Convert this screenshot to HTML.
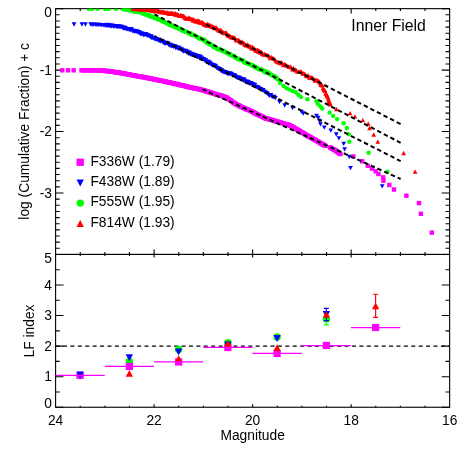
<!DOCTYPE html>
<html><head><meta charset="utf-8"><title>Inner Field</title>
<style>html,body{margin:0;padding:0;background:#fff}body{width:463px;height:463px;overflow:hidden}</style>
</head><body>
<svg width="463" height="463" viewBox="0 0 463 463" style="display:block;will-change:transform">
<rect width="463" height="463" fill="#fff"/>
<defs><clipPath id="c1"><rect x="55.6" y="8.65" width="394.04999999999995" height="245.79999999999998"/></clipPath></defs>
<g stroke="#000" stroke-width="1.1" fill="none" stroke-linecap="butt">
<rect x="55.6" y="8.65" width="394.04999999999995" height="245.79999999999998"/>
<rect x="55.6" y="254.45" width="394.04999999999995" height="152.8"/>
<path d="M80.23 8.65v2.45M80.23 254.45v-2.45M80.23 254.45v1.5M80.23 407.25v-1.5M104.86 8.65v2.45M104.86 254.45v-2.45M104.86 254.45v1.5M104.86 407.25v-1.5M129.48 8.65v2.45M129.48 254.45v-2.45M129.48 254.45v1.5M129.48 407.25v-1.5M154.11 8.65v4.9M154.11 254.45v-4.9M154.11 254.45v3.05M154.11 407.25v-3.05M178.74 8.65v2.45M178.74 254.45v-2.45M178.74 254.45v1.5M178.74 407.25v-1.5M203.37 8.65v2.45M203.37 254.45v-2.45M203.37 254.45v1.5M203.37 407.25v-1.5M228.00 8.65v2.45M228.00 254.45v-2.45M228.00 254.45v1.5M228.00 407.25v-1.5M252.62 8.65v4.9M252.62 254.45v-4.9M252.62 254.45v3.05M252.62 407.25v-3.05M277.25 8.65v2.45M277.25 254.45v-2.45M277.25 254.45v1.5M277.25 407.25v-1.5M301.88 8.65v2.45M301.88 254.45v-2.45M301.88 254.45v1.5M301.88 407.25v-1.5M326.51 8.65v2.45M326.51 254.45v-2.45M326.51 254.45v1.5M326.51 407.25v-1.5M351.14 8.65v4.9M351.14 254.45v-4.9M351.14 254.45v3.05M351.14 407.25v-3.05M375.77 8.65v2.45M375.77 254.45v-2.45M375.77 254.45v1.5M375.77 407.25v-1.5M400.39 8.65v2.45M400.39 254.45v-2.45M400.39 254.45v1.5M400.39 407.25v-1.5M425.02 8.65v2.45M425.02 254.45v-2.45M425.02 254.45v1.5M425.02 407.25v-1.5M55.6 8.65h7.9M449.65 8.65h-7.9M55.6 14.79h4.1M449.65 14.79h-4.1M55.6 20.94h4.1M449.65 20.94h-4.1M55.6 27.09h4.1M449.65 27.09h-4.1M55.6 33.23h4.1M449.65 33.23h-4.1M55.6 39.38h4.1M449.65 39.38h-4.1M55.6 45.52h4.1M449.65 45.52h-4.1M55.6 51.66h4.1M449.65 51.66h-4.1M55.6 57.81h4.1M449.65 57.81h-4.1M55.6 63.95h4.1M449.65 63.95h-4.1M55.6 70.10h7.9M449.65 70.10h-7.9M55.6 76.25h4.1M449.65 76.25h-4.1M55.6 82.39h4.1M449.65 82.39h-4.1M55.6 88.53h4.1M449.65 88.53h-4.1M55.6 94.68h4.1M449.65 94.68h-4.1M55.6 100.83h4.1M449.65 100.83h-4.1M55.6 106.97h4.1M449.65 106.97h-4.1M55.6 113.11h4.1M449.65 113.11h-4.1M55.6 119.26h4.1M449.65 119.26h-4.1M55.6 125.40h4.1M449.65 125.40h-4.1M55.6 131.55h7.9M449.65 131.55h-7.9M55.6 137.69h4.1M449.65 137.69h-4.1M55.6 143.84h4.1M449.65 143.84h-4.1M55.6 149.98h4.1M449.65 149.98h-4.1M55.6 156.13h4.1M449.65 156.13h-4.1M55.6 162.28h4.1M449.65 162.28h-4.1M55.6 168.42h4.1M449.65 168.42h-4.1M55.6 174.56h4.1M449.65 174.56h-4.1M55.6 180.71h4.1M449.65 180.71h-4.1M55.6 186.85h4.1M449.65 186.85h-4.1M55.6 193.00h7.9M449.65 193.00h-7.9M55.6 199.15h4.1M449.65 199.15h-4.1M55.6 205.29h4.1M449.65 205.29h-4.1M55.6 211.43h4.1M449.65 211.43h-4.1M55.6 217.58h4.1M449.65 217.58h-4.1M55.6 223.72h4.1M449.65 223.72h-4.1M55.6 229.87h4.1M449.65 229.87h-4.1M55.6 236.02h4.1M449.65 236.02h-4.1M55.6 242.16h4.1M449.65 242.16h-4.1M55.6 248.30h4.1M449.65 248.30h-4.1M55.6 254.45h7.9M449.65 254.45h-7.9M55.6 407.25h7.9M449.65 407.25h-7.9M55.6 391.97h4.1M449.65 391.97h-4.1M55.6 376.69h7.9M449.65 376.69h-7.9M55.6 361.41h4.1M449.65 361.41h-4.1M55.6 346.13h7.9M449.65 346.13h-7.9M55.6 330.85h4.1M449.65 330.85h-4.1M55.6 315.57h7.9M449.65 315.57h-7.9M55.6 300.29h4.1M449.65 300.29h-4.1M55.6 285.01h7.9M449.65 285.01h-7.9M55.6 269.73h4.1M449.65 269.73h-4.1M55.6 254.45h7.9M449.65 254.45h-7.9"/>
</g>
<g clip-path="url(#c1)">
<rect x="79.30" y="68.08" width="4.4" height="4.4" fill="#ff00ff"/>
<rect x="80.90" y="68.12" width="4.4" height="4.4" fill="#ff00ff"/>
<rect x="82.50" y="68.12" width="4.4" height="4.4" fill="#ff00ff"/>
<rect x="84.10" y="68.15" width="4.4" height="4.4" fill="#ff00ff"/>
<rect x="85.70" y="68.17" width="4.4" height="4.4" fill="#ff00ff"/>
<rect x="87.30" y="68.15" width="4.4" height="4.4" fill="#ff00ff"/>
<rect x="88.90" y="68.17" width="4.4" height="4.4" fill="#ff00ff"/>
<rect x="90.50" y="68.23" width="4.4" height="4.4" fill="#ff00ff"/>
<rect x="92.10" y="68.21" width="4.4" height="4.4" fill="#ff00ff"/>
<rect x="93.70" y="68.23" width="4.4" height="4.4" fill="#ff00ff"/>
<rect x="95.30" y="68.29" width="4.4" height="4.4" fill="#ff00ff"/>
<rect x="96.90" y="68.27" width="4.4" height="4.4" fill="#ff00ff"/>
<rect x="98.50" y="68.31" width="4.4" height="4.4" fill="#ff00ff"/>
<rect x="100.10" y="68.36" width="4.4" height="4.4" fill="#ff00ff"/>
<rect x="100.90" y="68.47" width="4.4" height="4.4" fill="#ff00ff"/>
<rect x="101.70" y="68.46" width="4.4" height="4.4" fill="#ff00ff"/>
<rect x="102.50" y="68.62" width="4.4" height="4.4" fill="#ff00ff"/>
<rect x="103.30" y="68.75" width="4.4" height="4.4" fill="#ff00ff"/>
<rect x="104.10" y="68.76" width="4.4" height="4.4" fill="#ff00ff"/>
<rect x="104.90" y="68.88" width="4.4" height="4.4" fill="#ff00ff"/>
<rect x="105.70" y="68.95" width="4.4" height="4.4" fill="#ff00ff"/>
<rect x="106.50" y="68.92" width="4.4" height="4.4" fill="#ff00ff"/>
<rect x="107.30" y="69.13" width="4.4" height="4.4" fill="#ff00ff"/>
<rect x="108.10" y="69.18" width="4.4" height="4.4" fill="#ff00ff"/>
<rect x="108.90" y="69.21" width="4.4" height="4.4" fill="#ff00ff"/>
<rect x="109.70" y="69.27" width="4.4" height="4.4" fill="#ff00ff"/>
<rect x="110.50" y="69.60" width="4.4" height="4.4" fill="#ff00ff"/>
<rect x="111.30" y="69.62" width="4.4" height="4.4" fill="#ff00ff"/>
<rect x="112.10" y="69.81" width="4.4" height="4.4" fill="#ff00ff"/>
<rect x="112.90" y="69.97" width="4.4" height="4.4" fill="#ff00ff"/>
<rect x="113.70" y="70.05" width="4.4" height="4.4" fill="#ff00ff"/>
<rect x="114.50" y="70.23" width="4.4" height="4.4" fill="#ff00ff"/>
<rect x="115.30" y="70.22" width="4.4" height="4.4" fill="#ff00ff"/>
<rect x="116.10" y="70.45" width="4.4" height="4.4" fill="#ff00ff"/>
<rect x="116.90" y="70.48" width="4.4" height="4.4" fill="#ff00ff"/>
<rect x="117.70" y="70.75" width="4.4" height="4.4" fill="#ff00ff"/>
<rect x="118.50" y="70.88" width="4.4" height="4.4" fill="#ff00ff"/>
<rect x="119.30" y="70.80" width="4.4" height="4.4" fill="#ff00ff"/>
<rect x="120.10" y="70.95" width="4.4" height="4.4" fill="#ff00ff"/>
<rect x="120.90" y="71.13" width="4.4" height="4.4" fill="#ff00ff"/>
<rect x="121.70" y="71.49" width="4.4" height="4.4" fill="#ff00ff"/>
<rect x="122.50" y="71.49" width="4.4" height="4.4" fill="#ff00ff"/>
<rect x="123.30" y="71.69" width="4.4" height="4.4" fill="#ff00ff"/>
<rect x="124.10" y="71.74" width="4.4" height="4.4" fill="#ff00ff"/>
<rect x="124.90" y="71.95" width="4.4" height="4.4" fill="#ff00ff"/>
<rect x="125.70" y="72.06" width="4.4" height="4.4" fill="#ff00ff"/>
<rect x="126.50" y="72.20" width="4.4" height="4.4" fill="#ff00ff"/>
<rect x="127.30" y="72.42" width="4.4" height="4.4" fill="#ff00ff"/>
<rect x="128.10" y="72.56" width="4.4" height="4.4" fill="#ff00ff"/>
<rect x="128.90" y="72.81" width="4.4" height="4.4" fill="#ff00ff"/>
<rect x="129.70" y="72.89" width="4.4" height="4.4" fill="#ff00ff"/>
<rect x="130.50" y="73.11" width="4.4" height="4.4" fill="#ff00ff"/>
<rect x="131.30" y="73.24" width="4.4" height="4.4" fill="#ff00ff"/>
<rect x="132.10" y="73.42" width="4.4" height="4.4" fill="#ff00ff"/>
<rect x="132.90" y="73.48" width="4.4" height="4.4" fill="#ff00ff"/>
<rect x="133.70" y="73.48" width="4.4" height="4.4" fill="#ff00ff"/>
<rect x="134.50" y="73.83" width="4.4" height="4.4" fill="#ff00ff"/>
<rect x="135.30" y="74.01" width="4.4" height="4.4" fill="#ff00ff"/>
<rect x="136.10" y="74.14" width="4.4" height="4.4" fill="#ff00ff"/>
<rect x="136.90" y="74.19" width="4.4" height="4.4" fill="#ff00ff"/>
<rect x="137.70" y="74.38" width="4.4" height="4.4" fill="#ff00ff"/>
<rect x="138.50" y="74.38" width="4.4" height="4.4" fill="#ff00ff"/>
<rect x="139.30" y="74.72" width="4.4" height="4.4" fill="#ff00ff"/>
<rect x="140.10" y="74.79" width="4.4" height="4.4" fill="#ff00ff"/>
<rect x="140.90" y="74.85" width="4.4" height="4.4" fill="#ff00ff"/>
<rect x="141.70" y="74.94" width="4.4" height="4.4" fill="#ff00ff"/>
<rect x="142.50" y="75.32" width="4.4" height="4.4" fill="#ff00ff"/>
<rect x="143.30" y="75.51" width="4.4" height="4.4" fill="#ff00ff"/>
<rect x="144.10" y="75.39" width="4.4" height="4.4" fill="#ff00ff"/>
<rect x="144.90" y="75.77" width="4.4" height="4.4" fill="#ff00ff"/>
<rect x="145.70" y="75.81" width="4.4" height="4.4" fill="#ff00ff"/>
<rect x="146.50" y="75.89" width="4.4" height="4.4" fill="#ff00ff"/>
<rect x="147.30" y="76.10" width="4.4" height="4.4" fill="#ff00ff"/>
<rect x="148.10" y="76.40" width="4.4" height="4.4" fill="#ff00ff"/>
<rect x="148.90" y="76.60" width="4.4" height="4.4" fill="#ff00ff"/>
<rect x="149.70" y="76.50" width="4.4" height="4.4" fill="#ff00ff"/>
<rect x="150.50" y="76.84" width="4.4" height="4.4" fill="#ff00ff"/>
<rect x="151.30" y="76.82" width="4.4" height="4.4" fill="#ff00ff"/>
<rect x="152.10" y="77.19" width="4.4" height="4.4" fill="#ff00ff"/>
<rect x="152.90" y="77.23" width="4.4" height="4.4" fill="#ff00ff"/>
<rect x="153.70" y="77.56" width="4.4" height="4.4" fill="#ff00ff"/>
<rect x="154.50" y="77.75" width="4.4" height="4.4" fill="#ff00ff"/>
<rect x="155.30" y="77.76" width="4.4" height="4.4" fill="#ff00ff"/>
<rect x="156.10" y="78.08" width="4.4" height="4.4" fill="#ff00ff"/>
<rect x="156.90" y="78.02" width="4.4" height="4.4" fill="#ff00ff"/>
<rect x="157.70" y="78.12" width="4.4" height="4.4" fill="#ff00ff"/>
<rect x="158.50" y="78.46" width="4.4" height="4.4" fill="#ff00ff"/>
<rect x="159.30" y="78.44" width="4.4" height="4.4" fill="#ff00ff"/>
<rect x="160.10" y="78.67" width="4.4" height="4.4" fill="#ff00ff"/>
<rect x="160.90" y="78.91" width="4.4" height="4.4" fill="#ff00ff"/>
<rect x="161.70" y="79.15" width="4.4" height="4.4" fill="#ff00ff"/>
<rect x="162.50" y="79.17" width="4.4" height="4.4" fill="#ff00ff"/>
<rect x="163.30" y="79.31" width="4.4" height="4.4" fill="#ff00ff"/>
<rect x="164.10" y="79.75" width="4.4" height="4.4" fill="#ff00ff"/>
<rect x="164.90" y="79.74" width="4.4" height="4.4" fill="#ff00ff"/>
<rect x="165.70" y="80.13" width="4.4" height="4.4" fill="#ff00ff"/>
<rect x="166.50" y="80.28" width="4.4" height="4.4" fill="#ff00ff"/>
<rect x="167.30" y="80.28" width="4.4" height="4.4" fill="#ff00ff"/>
<rect x="168.10" y="80.48" width="4.4" height="4.4" fill="#ff00ff"/>
<rect x="168.90" y="80.67" width="4.4" height="4.4" fill="#ff00ff"/>
<rect x="169.70" y="80.88" width="4.4" height="4.4" fill="#ff00ff"/>
<rect x="170.50" y="81.04" width="4.4" height="4.4" fill="#ff00ff"/>
<rect x="171.30" y="81.20" width="4.4" height="4.4" fill="#ff00ff"/>
<rect x="172.10" y="81.39" width="4.4" height="4.4" fill="#ff00ff"/>
<rect x="172.90" y="81.69" width="4.4" height="4.4" fill="#ff00ff"/>
<rect x="173.70" y="81.72" width="4.4" height="4.4" fill="#ff00ff"/>
<rect x="174.50" y="81.89" width="4.4" height="4.4" fill="#ff00ff"/>
<rect x="175.30" y="82.19" width="4.4" height="4.4" fill="#ff00ff"/>
<rect x="176.10" y="82.21" width="4.4" height="4.4" fill="#ff00ff"/>
<rect x="176.90" y="82.43" width="4.4" height="4.4" fill="#ff00ff"/>
<rect x="177.70" y="82.87" width="4.4" height="4.4" fill="#ff00ff"/>
<rect x="178.50" y="82.90" width="4.4" height="4.4" fill="#ff00ff"/>
<rect x="179.30" y="83.10" width="4.4" height="4.4" fill="#ff00ff"/>
<rect x="180.10" y="83.10" width="4.4" height="4.4" fill="#ff00ff"/>
<rect x="180.90" y="83.44" width="4.4" height="4.4" fill="#ff00ff"/>
<rect x="181.70" y="83.70" width="4.4" height="4.4" fill="#ff00ff"/>
<rect x="182.50" y="83.69" width="4.4" height="4.4" fill="#ff00ff"/>
<rect x="183.30" y="84.10" width="4.4" height="4.4" fill="#ff00ff"/>
<rect x="184.10" y="84.30" width="4.4" height="4.4" fill="#ff00ff"/>
<rect x="184.90" y="84.29" width="4.4" height="4.4" fill="#ff00ff"/>
<rect x="185.70" y="84.69" width="4.4" height="4.4" fill="#ff00ff"/>
<rect x="186.50" y="84.83" width="4.4" height="4.4" fill="#ff00ff"/>
<rect x="187.30" y="85.10" width="4.4" height="4.4" fill="#ff00ff"/>
<rect x="188.10" y="85.17" width="4.4" height="4.4" fill="#ff00ff"/>
<rect x="188.90" y="85.49" width="4.4" height="4.4" fill="#ff00ff"/>
<rect x="189.70" y="85.65" width="4.4" height="4.4" fill="#ff00ff"/>
<rect x="190.50" y="85.59" width="4.4" height="4.4" fill="#ff00ff"/>
<rect x="191.30" y="85.76" width="4.4" height="4.4" fill="#ff00ff"/>
<rect x="192.10" y="86.12" width="4.4" height="4.4" fill="#ff00ff"/>
<rect x="192.90" y="86.37" width="4.4" height="4.4" fill="#ff00ff"/>
<rect x="193.70" y="86.30" width="4.4" height="4.4" fill="#ff00ff"/>
<rect x="194.50" y="86.53" width="4.4" height="4.4" fill="#ff00ff"/>
<rect x="195.30" y="86.73" width="4.4" height="4.4" fill="#ff00ff"/>
<rect x="196.10" y="86.80" width="4.4" height="4.4" fill="#ff00ff"/>
<rect x="196.90" y="86.98" width="4.4" height="4.4" fill="#ff00ff"/>
<rect x="197.70" y="87.11" width="4.4" height="4.4" fill="#ff00ff"/>
<rect x="198.50" y="87.36" width="4.4" height="4.4" fill="#ff00ff"/>
<rect x="199.30" y="87.69" width="4.4" height="4.4" fill="#ff00ff"/>
<rect x="200.10" y="87.81" width="4.4" height="4.4" fill="#ff00ff"/>
<rect x="200.90" y="88.08" width="4.4" height="4.4" fill="#ff00ff"/>
<rect x="201.70" y="88.48" width="4.4" height="4.4" fill="#ff00ff"/>
<rect x="202.50" y="88.42" width="4.4" height="4.4" fill="#ff00ff"/>
<rect x="203.30" y="88.88" width="4.4" height="4.4" fill="#ff00ff"/>
<rect x="204.10" y="89.18" width="4.4" height="4.4" fill="#ff00ff"/>
<rect x="204.90" y="89.25" width="4.4" height="4.4" fill="#ff00ff"/>
<rect x="205.70" y="89.46" width="4.4" height="4.4" fill="#ff00ff"/>
<rect x="206.50" y="89.93" width="4.4" height="4.4" fill="#ff00ff"/>
<rect x="207.30" y="89.95" width="4.4" height="4.4" fill="#ff00ff"/>
<rect x="208.10" y="90.16" width="4.4" height="4.4" fill="#ff00ff"/>
<rect x="208.90" y="90.50" width="4.4" height="4.4" fill="#ff00ff"/>
<rect x="209.70" y="90.85" width="4.4" height="4.4" fill="#ff00ff"/>
<rect x="210.50" y="90.85" width="4.4" height="4.4" fill="#ff00ff"/>
<rect x="211.30" y="91.18" width="4.4" height="4.4" fill="#ff00ff"/>
<rect x="212.10" y="91.43" width="4.4" height="4.4" fill="#ff00ff"/>
<rect x="212.90" y="91.87" width="4.4" height="4.4" fill="#ff00ff"/>
<rect x="213.70" y="91.95" width="4.4" height="4.4" fill="#ff00ff"/>
<rect x="214.50" y="92.36" width="4.4" height="4.4" fill="#ff00ff"/>
<rect x="215.30" y="92.33" width="4.4" height="4.4" fill="#ff00ff"/>
<rect x="216.10" y="92.64" width="4.4" height="4.4" fill="#ff00ff"/>
<rect x="216.90" y="93.00" width="4.4" height="4.4" fill="#ff00ff"/>
<rect x="217.70" y="93.34" width="4.4" height="4.4" fill="#ff00ff"/>
<rect x="218.50" y="93.41" width="4.4" height="4.4" fill="#ff00ff"/>
<rect x="219.30" y="93.56" width="4.4" height="4.4" fill="#ff00ff"/>
<rect x="220.10" y="93.76" width="4.4" height="4.4" fill="#ff00ff"/>
<rect x="220.90" y="94.17" width="4.4" height="4.4" fill="#ff00ff"/>
<rect x="221.70" y="94.27" width="4.4" height="4.4" fill="#ff00ff"/>
<rect x="222.50" y="94.76" width="4.4" height="4.4" fill="#ff00ff"/>
<rect x="223.30" y="95.01" width="4.4" height="4.4" fill="#ff00ff"/>
<rect x="224.10" y="95.15" width="4.4" height="4.4" fill="#ff00ff"/>
<rect x="224.90" y="95.73" width="4.4" height="4.4" fill="#ff00ff"/>
<rect x="225.70" y="96.49" width="4.4" height="4.4" fill="#ff00ff"/>
<rect x="226.50" y="96.97" width="4.4" height="4.4" fill="#ff00ff"/>
<rect x="227.30" y="97.58" width="4.4" height="4.4" fill="#ff00ff"/>
<rect x="228.10" y="97.96" width="4.4" height="4.4" fill="#ff00ff"/>
<rect x="228.90" y="98.48" width="4.4" height="4.4" fill="#ff00ff"/>
<rect x="229.70" y="99.14" width="4.4" height="4.4" fill="#ff00ff"/>
<rect x="230.50" y="99.94" width="4.4" height="4.4" fill="#ff00ff"/>
<rect x="231.30" y="100.33" width="4.4" height="4.4" fill="#ff00ff"/>
<rect x="232.10" y="100.96" width="4.4" height="4.4" fill="#ff00ff"/>
<rect x="232.90" y="101.51" width="4.4" height="4.4" fill="#ff00ff"/>
<rect x="233.70" y="101.90" width="4.4" height="4.4" fill="#ff00ff"/>
<rect x="234.50" y="102.29" width="4.4" height="4.4" fill="#ff00ff"/>
<rect x="235.30" y="102.89" width="4.4" height="4.4" fill="#ff00ff"/>
<rect x="236.10" y="102.97" width="4.4" height="4.4" fill="#ff00ff"/>
<rect x="236.90" y="103.29" width="4.4" height="4.4" fill="#ff00ff"/>
<rect x="237.70" y="104.03" width="4.4" height="4.4" fill="#ff00ff"/>
<rect x="238.50" y="104.38" width="4.4" height="4.4" fill="#ff00ff"/>
<rect x="239.30" y="104.78" width="4.4" height="4.4" fill="#ff00ff"/>
<rect x="240.10" y="104.93" width="4.4" height="4.4" fill="#ff00ff"/>
<rect x="240.90" y="105.50" width="4.4" height="4.4" fill="#ff00ff"/>
<rect x="241.70" y="105.86" width="4.4" height="4.4" fill="#ff00ff"/>
<rect x="242.50" y="105.94" width="4.4" height="4.4" fill="#ff00ff"/>
<rect x="243.30" y="106.52" width="4.4" height="4.4" fill="#ff00ff"/>
<rect x="244.10" y="106.92" width="4.4" height="4.4" fill="#ff00ff"/>
<rect x="244.90" y="107.22" width="4.4" height="4.4" fill="#ff00ff"/>
<rect x="245.70" y="107.52" width="4.4" height="4.4" fill="#ff00ff"/>
<rect x="246.50" y="107.80" width="4.4" height="4.4" fill="#ff00ff"/>
<rect x="247.30" y="108.18" width="4.4" height="4.4" fill="#ff00ff"/>
<rect x="248.10" y="108.50" width="4.4" height="4.4" fill="#ff00ff"/>
<rect x="248.90" y="108.81" width="4.4" height="4.4" fill="#ff00ff"/>
<rect x="249.70" y="109.39" width="4.4" height="4.4" fill="#ff00ff"/>
<rect x="250.50" y="109.66" width="4.4" height="4.4" fill="#ff00ff"/>
<rect x="251.30" y="110.27" width="4.4" height="4.4" fill="#ff00ff"/>
<rect x="252.10" y="110.37" width="4.4" height="4.4" fill="#ff00ff"/>
<rect x="252.90" y="111.11" width="4.4" height="4.4" fill="#ff00ff"/>
<rect x="253.70" y="111.43" width="4.4" height="4.4" fill="#ff00ff"/>
<rect x="254.50" y="111.92" width="4.4" height="4.4" fill="#ff00ff"/>
<rect x="255.30" y="112.31" width="4.4" height="4.4" fill="#ff00ff"/>
<rect x="256.10" y="112.71" width="4.4" height="4.4" fill="#ff00ff"/>
<rect x="256.90" y="112.98" width="4.4" height="4.4" fill="#ff00ff"/>
<rect x="257.70" y="113.16" width="4.4" height="4.4" fill="#ff00ff"/>
<rect x="258.50" y="113.85" width="4.4" height="4.4" fill="#ff00ff"/>
<rect x="259.30" y="114.02" width="4.4" height="4.4" fill="#ff00ff"/>
<rect x="260.10" y="114.47" width="4.4" height="4.4" fill="#ff00ff"/>
<rect x="260.90" y="115.02" width="4.4" height="4.4" fill="#ff00ff"/>
<rect x="261.70" y="115.36" width="4.4" height="4.4" fill="#ff00ff"/>
<rect x="262.50" y="115.72" width="4.4" height="4.4" fill="#ff00ff"/>
<rect x="263.30" y="116.18" width="4.4" height="4.4" fill="#ff00ff"/>
<rect x="264.10" y="116.28" width="4.4" height="4.4" fill="#ff00ff"/>
<rect x="264.90" y="116.41" width="4.4" height="4.4" fill="#ff00ff"/>
<rect x="265.70" y="116.61" width="4.4" height="4.4" fill="#ff00ff"/>
<rect x="266.50" y="117.08" width="4.4" height="4.4" fill="#ff00ff"/>
<rect x="267.30" y="117.16" width="4.4" height="4.4" fill="#ff00ff"/>
<rect x="268.10" y="117.52" width="4.4" height="4.4" fill="#ff00ff"/>
<rect x="268.90" y="117.58" width="4.4" height="4.4" fill="#ff00ff"/>
<rect x="269.70" y="117.75" width="4.4" height="4.4" fill="#ff00ff"/>
<rect x="270.50" y="118.12" width="4.4" height="4.4" fill="#ff00ff"/>
<rect x="271.30" y="118.47" width="4.4" height="4.4" fill="#ff00ff"/>
<rect x="272.10" y="118.45" width="4.4" height="4.4" fill="#ff00ff"/>
<rect x="272.90" y="118.93" width="4.4" height="4.4" fill="#ff00ff"/>
<rect x="273.70" y="119.21" width="4.4" height="4.4" fill="#ff00ff"/>
<rect x="274.50" y="119.40" width="4.4" height="4.4" fill="#ff00ff"/>
<rect x="275.30" y="119.64" width="4.4" height="4.4" fill="#ff00ff"/>
<rect x="276.10" y="119.55" width="4.4" height="4.4" fill="#ff00ff"/>
<rect x="276.90" y="120.04" width="4.4" height="4.4" fill="#ff00ff"/>
<rect x="277.70" y="120.38" width="4.4" height="4.4" fill="#ff00ff"/>
<rect x="278.50" y="120.30" width="4.4" height="4.4" fill="#ff00ff"/>
<rect x="279.30" y="120.63" width="4.4" height="4.4" fill="#ff00ff"/>
<rect x="280.10" y="120.87" width="4.4" height="4.4" fill="#ff00ff"/>
<rect x="280.90" y="121.21" width="4.4" height="4.4" fill="#ff00ff"/>
<rect x="281.70" y="121.41" width="4.4" height="4.4" fill="#ff00ff"/>
<rect x="282.50" y="121.68" width="4.4" height="4.4" fill="#ff00ff"/>
<rect x="283.30" y="122.04" width="4.4" height="4.4" fill="#ff00ff"/>
<rect x="284.10" y="121.97" width="4.4" height="4.4" fill="#ff00ff"/>
<rect x="284.90" y="122.23" width="4.4" height="4.4" fill="#ff00ff"/>
<rect x="285.70" y="122.50" width="4.4" height="4.4" fill="#ff00ff"/>
<rect x="286.50" y="122.75" width="4.4" height="4.4" fill="#ff00ff"/>
<rect x="287.30" y="122.96" width="4.4" height="4.4" fill="#ff00ff"/>
<rect x="288.10" y="123.57" width="4.4" height="4.4" fill="#ff00ff"/>
<rect x="288.90" y="123.88" width="4.4" height="4.4" fill="#ff00ff"/>
<rect x="289.70" y="124.05" width="4.4" height="4.4" fill="#ff00ff"/>
<rect x="290.50" y="124.70" width="4.4" height="4.4" fill="#ff00ff"/>
<rect x="291.30" y="125.11" width="4.4" height="4.4" fill="#ff00ff"/>
<rect x="292.10" y="125.59" width="4.4" height="4.4" fill="#ff00ff"/>
<rect x="292.90" y="126.08" width="4.4" height="4.4" fill="#ff00ff"/>
<rect x="293.70" y="126.68" width="4.4" height="4.4" fill="#ff00ff"/>
<rect x="294.50" y="127.13" width="4.4" height="4.4" fill="#ff00ff"/>
<rect x="295.30" y="127.52" width="4.4" height="4.4" fill="#ff00ff"/>
<rect x="296.10" y="127.94" width="4.4" height="4.4" fill="#ff00ff"/>
<rect x="296.90" y="128.47" width="4.4" height="4.4" fill="#ff00ff"/>
<rect x="297.70" y="128.87" width="4.4" height="4.4" fill="#ff00ff"/>
<rect x="298.50" y="129.52" width="4.4" height="4.4" fill="#ff00ff"/>
<rect x="299.30" y="130.07" width="4.4" height="4.4" fill="#ff00ff"/>
<rect x="300.10" y="130.41" width="4.4" height="4.4" fill="#ff00ff"/>
<rect x="300.90" y="130.77" width="4.4" height="4.4" fill="#ff00ff"/>
<rect x="301.70" y="131.28" width="4.4" height="4.4" fill="#ff00ff"/>
<rect x="302.50" y="131.81" width="4.4" height="4.4" fill="#ff00ff"/>
<rect x="303.30" y="132.36" width="4.4" height="4.4" fill="#ff00ff"/>
<rect x="304.10" y="132.88" width="4.4" height="4.4" fill="#ff00ff"/>
<rect x="304.90" y="133.17" width="4.4" height="4.4" fill="#ff00ff"/>
<rect x="305.70" y="133.79" width="4.4" height="4.4" fill="#ff00ff"/>
<rect x="306.50" y="134.16" width="4.4" height="4.4" fill="#ff00ff"/>
<rect x="307.30" y="134.54" width="4.4" height="4.4" fill="#ff00ff"/>
<rect x="308.10" y="134.96" width="4.4" height="4.4" fill="#ff00ff"/>
<rect x="308.90" y="135.46" width="4.4" height="4.4" fill="#ff00ff"/>
<rect x="309.70" y="136.00" width="4.4" height="4.4" fill="#ff00ff"/>
<rect x="310.50" y="136.34" width="4.4" height="4.4" fill="#ff00ff"/>
<rect x="311.30" y="136.90" width="4.4" height="4.4" fill="#ff00ff"/>
<rect x="312.10" y="137.25" width="4.4" height="4.4" fill="#ff00ff"/>
<rect x="312.90" y="137.62" width="4.4" height="4.4" fill="#ff00ff"/>
<rect x="313.70" y="138.19" width="4.4" height="4.4" fill="#ff00ff"/>
<rect x="314.50" y="138.72" width="4.4" height="4.4" fill="#ff00ff"/>
<rect x="315.30" y="138.93" width="4.4" height="4.4" fill="#ff00ff"/>
<rect x="316.10" y="139.54" width="4.4" height="4.4" fill="#ff00ff"/>
<rect x="316.90" y="140.00" width="4.4" height="4.4" fill="#ff00ff"/>
<rect x="317.70" y="140.65" width="4.4" height="4.4" fill="#ff00ff"/>
<rect x="318.50" y="141.13" width="4.4" height="4.4" fill="#ff00ff"/>
<rect x="319.30" y="141.37" width="4.4" height="4.4" fill="#ff00ff"/>
<rect x="320.10" y="142.05" width="4.4" height="4.4" fill="#ff00ff"/>
<rect x="320.90" y="142.47" width="4.4" height="4.4" fill="#ff00ff"/>
<rect x="321.70" y="142.72" width="4.4" height="4.4" fill="#ff00ff"/>
<rect x="322.50" y="143.26" width="4.4" height="4.4" fill="#ff00ff"/>
<rect x="323.30" y="143.67" width="4.4" height="4.4" fill="#ff00ff"/>
<rect x="327.80" y="145.23" width="4.4" height="4.4" fill="#ff00ff"/>
<rect x="328.60" y="145.63" width="4.4" height="4.4" fill="#ff00ff"/>
<rect x="329.40" y="146.18" width="4.4" height="4.4" fill="#ff00ff"/>
<rect x="330.20" y="146.61" width="4.4" height="4.4" fill="#ff00ff"/>
<rect x="331.00" y="147.02" width="4.4" height="4.4" fill="#ff00ff"/>
<rect x="331.80" y="147.51" width="4.4" height="4.4" fill="#ff00ff"/>
<rect x="332.60" y="147.91" width="4.4" height="4.4" fill="#ff00ff"/>
<rect x="333.40" y="148.28" width="4.4" height="4.4" fill="#ff00ff"/>
<rect x="334.20" y="149.05" width="4.4" height="4.4" fill="#ff00ff"/>
<rect x="335.00" y="149.40" width="4.4" height="4.4" fill="#ff00ff"/>
<rect x="335.80" y="150.04" width="4.4" height="4.4" fill="#ff00ff"/>
<rect x="336.60" y="150.87" width="4.4" height="4.4" fill="#ff00ff"/>
<rect x="337.40" y="151.16" width="4.4" height="4.4" fill="#ff00ff"/>
<rect x="338.20" y="151.83" width="4.4" height="4.4" fill="#ff00ff"/>
<rect x="60.10" y="68.10" width="4.4" height="4.4" fill="#ff00ff"/>
<rect x="65.80" y="68.10" width="4.4" height="4.4" fill="#ff00ff"/>
<rect x="71.50" y="68.10" width="4.4" height="4.4" fill="#ff00ff"/>
<rect x="351.20" y="154.30" width="4.4" height="4.4" fill="#ff00ff"/>
<rect x="359.90" y="159.10" width="4.4" height="4.4" fill="#ff00ff"/>
<rect x="365.60" y="163.60" width="4.4" height="4.4" fill="#ff00ff"/>
<rect x="369.70" y="166.40" width="4.4" height="4.4" fill="#ff00ff"/>
<rect x="373.50" y="169.10" width="4.4" height="4.4" fill="#ff00ff"/>
<rect x="376.20" y="171.80" width="4.4" height="4.4" fill="#ff00ff"/>
<rect x="381.00" y="175.20" width="4.4" height="4.4" fill="#ff00ff"/>
<rect x="381.20" y="178.50" width="4.4" height="4.4" fill="#ff00ff"/>
<rect x="387.10" y="182.80" width="4.4" height="4.4" fill="#ff00ff"/>
<rect x="391.80" y="187.30" width="4.4" height="4.4" fill="#ff00ff"/>
<rect x="404.20" y="193.50" width="4.4" height="4.4" fill="#ff00ff"/>
<rect x="416.80" y="200.90" width="4.4" height="4.4" fill="#ff00ff"/>
<rect x="418.70" y="211.60" width="4.4" height="4.4" fill="#ff00ff"/>
<rect x="429.60" y="230.40" width="4.4" height="4.4" fill="#ff00ff"/>
<path d="M88.25 22.26L92.95 22.26L90.60 26.56Z" fill="#0000ff"/>
<path d="M89.85 22.69L94.55 22.69L92.20 26.99Z" fill="#0000ff"/>
<path d="M91.45 22.43L96.15 22.43L93.80 26.73Z" fill="#0000ff"/>
<path d="M93.05 22.43L97.75 22.43L95.40 26.73Z" fill="#0000ff"/>
<path d="M94.65 22.88L99.35 22.88L97.00 27.18Z" fill="#0000ff"/>
<path d="M96.25 22.61L100.95 22.61L98.60 26.91Z" fill="#0000ff"/>
<path d="M97.85 23.01L102.55 23.01L100.20 27.31Z" fill="#0000ff"/>
<path d="M99.45 23.00L104.15 23.00L101.80 27.30Z" fill="#0000ff"/>
<path d="M101.05 23.14L105.75 23.14L103.40 27.44Z" fill="#0000ff"/>
<path d="M102.65 23.46L107.35 23.46L105.00 27.76Z" fill="#0000ff"/>
<path d="M103.35 23.20L108.05 23.20L105.70 27.50Z" fill="#0000ff"/>
<path d="M104.05 23.48L108.75 23.48L106.40 27.78Z" fill="#0000ff"/>
<path d="M104.75 22.87L109.45 22.87L107.10 27.17Z" fill="#0000ff"/>
<path d="M105.45 23.61L110.15 23.61L107.80 27.91Z" fill="#0000ff"/>
<path d="M106.15 23.46L110.85 23.46L108.50 27.76Z" fill="#0000ff"/>
<path d="M106.85 23.72L111.55 23.72L109.20 28.02Z" fill="#0000ff"/>
<path d="M107.55 23.26L112.25 23.26L109.90 27.56Z" fill="#0000ff"/>
<path d="M108.25 23.91L112.95 23.91L110.60 28.21Z" fill="#0000ff"/>
<path d="M108.95 24.16L113.65 24.16L111.30 28.46Z" fill="#0000ff"/>
<path d="M109.65 23.42L114.35 23.42L112.00 27.72Z" fill="#0000ff"/>
<path d="M110.35 23.77L115.05 23.77L112.70 28.07Z" fill="#0000ff"/>
<path d="M111.05 24.09L115.75 24.09L113.40 28.39Z" fill="#0000ff"/>
<path d="M111.75 24.44L116.45 24.44L114.10 28.74Z" fill="#0000ff"/>
<path d="M112.45 23.95L117.15 23.95L114.80 28.25Z" fill="#0000ff"/>
<path d="M113.15 23.98L117.85 23.98L115.50 28.28Z" fill="#0000ff"/>
<path d="M113.85 24.14L118.55 24.14L116.20 28.44Z" fill="#0000ff"/>
<path d="M114.55 24.59L119.25 24.59L116.90 28.89Z" fill="#0000ff"/>
<path d="M115.25 24.82L119.95 24.82L117.60 29.12Z" fill="#0000ff"/>
<path d="M115.95 24.55L120.65 24.55L118.30 28.85Z" fill="#0000ff"/>
<path d="M116.65 24.62L121.35 24.62L119.00 28.92Z" fill="#0000ff"/>
<path d="M117.35 24.67L122.05 24.67L119.70 28.97Z" fill="#0000ff"/>
<path d="M118.05 24.74L122.75 24.74L120.40 29.04Z" fill="#0000ff"/>
<path d="M118.75 25.04L123.45 25.04L121.10 29.34Z" fill="#0000ff"/>
<path d="M119.45 24.63L124.15 24.63L121.80 28.93Z" fill="#0000ff"/>
<path d="M120.15 25.54L124.85 25.54L122.50 29.84Z" fill="#0000ff"/>
<path d="M120.85 26.54L125.55 26.54L123.20 30.84Z" fill="#0000ff"/>
<path d="M121.55 25.74L126.25 25.74L123.90 30.04Z" fill="#0000ff"/>
<path d="M122.25 26.51L126.95 26.51L124.60 30.81Z" fill="#0000ff"/>
<path d="M122.95 25.66L127.65 25.66L125.30 29.96Z" fill="#0000ff"/>
<path d="M123.65 26.76L128.35 26.76L126.00 31.06Z" fill="#0000ff"/>
<path d="M124.35 27.06L129.05 27.06L126.70 31.36Z" fill="#0000ff"/>
<path d="M125.05 27.09L129.75 27.09L127.40 31.39Z" fill="#0000ff"/>
<path d="M125.75 27.00L130.45 27.00L128.10 31.30Z" fill="#0000ff"/>
<path d="M126.45 27.12L131.15 27.12L128.80 31.42Z" fill="#0000ff"/>
<path d="M127.15 27.57L131.85 27.57L129.50 31.87Z" fill="#0000ff"/>
<path d="M127.85 28.24L132.55 28.24L130.20 32.54Z" fill="#0000ff"/>
<path d="M128.55 27.14L133.25 27.14L130.90 31.44Z" fill="#0000ff"/>
<path d="M129.25 27.30L133.95 27.30L131.60 31.60Z" fill="#0000ff"/>
<path d="M129.95 28.73L134.65 28.73L132.30 33.03Z" fill="#0000ff"/>
<path d="M130.65 29.29L135.35 29.29L133.00 33.59Z" fill="#0000ff"/>
<path d="M131.35 28.82L136.05 28.82L133.70 33.12Z" fill="#0000ff"/>
<path d="M132.05 28.94L136.75 28.94L134.40 33.24Z" fill="#0000ff"/>
<path d="M132.75 29.69L137.45 29.69L135.10 33.99Z" fill="#0000ff"/>
<path d="M133.45 28.98L138.15 28.98L135.80 33.28Z" fill="#0000ff"/>
<path d="M134.15 29.38L138.85 29.38L136.50 33.68Z" fill="#0000ff"/>
<path d="M134.85 29.51L139.55 29.51L137.20 33.81Z" fill="#0000ff"/>
<path d="M135.55 30.46L140.25 30.46L137.90 34.76Z" fill="#0000ff"/>
<path d="M136.25 30.23L140.95 30.23L138.60 34.53Z" fill="#0000ff"/>
<path d="M136.95 30.33L141.65 30.33L139.30 34.63Z" fill="#0000ff"/>
<path d="M137.65 31.41L142.35 31.41L140.00 35.71Z" fill="#0000ff"/>
<path d="M138.35 32.13L143.05 32.13L140.70 36.43Z" fill="#0000ff"/>
<path d="M139.05 31.19L143.75 31.19L141.40 35.49Z" fill="#0000ff"/>
<path d="M139.75 32.16L144.45 32.16L142.10 36.46Z" fill="#0000ff"/>
<path d="M140.45 31.87L145.15 31.87L142.80 36.17Z" fill="#0000ff"/>
<path d="M141.15 32.90L145.85 32.90L143.50 37.20Z" fill="#0000ff"/>
<path d="M141.85 32.65L146.55 32.65L144.20 36.95Z" fill="#0000ff"/>
<path d="M142.55 32.31L147.25 32.31L144.90 36.61Z" fill="#0000ff"/>
<path d="M143.25 32.46L147.95 32.46L145.60 36.76Z" fill="#0000ff"/>
<path d="M143.95 32.35L148.65 32.35L146.30 36.65Z" fill="#0000ff"/>
<path d="M144.65 33.40L149.35 33.40L147.00 37.70Z" fill="#0000ff"/>
<path d="M145.35 33.46L150.05 33.46L147.70 37.76Z" fill="#0000ff"/>
<path d="M146.05 33.32L150.75 33.32L148.40 37.62Z" fill="#0000ff"/>
<path d="M146.75 33.90L151.45 33.90L149.10 38.20Z" fill="#0000ff"/>
<path d="M147.45 34.06L152.15 34.06L149.80 38.36Z" fill="#0000ff"/>
<path d="M148.15 35.14L152.85 35.14L150.50 39.44Z" fill="#0000ff"/>
<path d="M148.85 34.28L153.55 34.28L151.20 38.58Z" fill="#0000ff"/>
<path d="M149.55 36.08L154.25 36.08L151.90 40.38Z" fill="#0000ff"/>
<path d="M150.25 35.43L154.95 35.43L152.60 39.73Z" fill="#0000ff"/>
<path d="M150.95 35.92L155.65 35.92L153.30 40.22Z" fill="#0000ff"/>
<path d="M151.65 35.96L156.35 35.96L154.00 40.26Z" fill="#0000ff"/>
<path d="M152.35 36.89L157.05 36.89L154.70 41.19Z" fill="#0000ff"/>
<path d="M153.05 37.14L157.75 37.14L155.40 41.44Z" fill="#0000ff"/>
<path d="M153.75 36.94L158.45 36.94L156.10 41.24Z" fill="#0000ff"/>
<path d="M154.45 37.07L159.15 37.07L156.80 41.37Z" fill="#0000ff"/>
<path d="M155.15 37.78L159.85 37.78L157.50 42.08Z" fill="#0000ff"/>
<path d="M155.85 38.30L160.55 38.30L158.20 42.60Z" fill="#0000ff"/>
<path d="M156.55 37.77L161.25 37.77L158.90 42.07Z" fill="#0000ff"/>
<path d="M157.25 38.70L161.95 38.70L159.60 43.00Z" fill="#0000ff"/>
<path d="M157.95 39.44L162.65 39.44L160.30 43.74Z" fill="#0000ff"/>
<path d="M158.65 38.89L163.35 38.89L161.00 43.19Z" fill="#0000ff"/>
<path d="M159.35 38.79L164.05 38.79L161.70 43.09Z" fill="#0000ff"/>
<path d="M160.05 39.13L164.75 39.13L162.40 43.43Z" fill="#0000ff"/>
<path d="M160.75 40.34L165.45 40.34L163.10 44.64Z" fill="#0000ff"/>
<path d="M161.45 40.59L166.15 40.59L163.80 44.89Z" fill="#0000ff"/>
<path d="M162.15 41.44L166.85 41.44L164.50 45.74Z" fill="#0000ff"/>
<path d="M162.85 41.57L167.55 41.57L165.20 45.87Z" fill="#0000ff"/>
<path d="M163.55 40.75L168.25 40.75L165.90 45.05Z" fill="#0000ff"/>
<path d="M164.25 40.95L168.95 40.95L166.60 45.25Z" fill="#0000ff"/>
<path d="M164.95 41.36L169.65 41.36L167.30 45.66Z" fill="#0000ff"/>
<path d="M165.65 41.52L170.35 41.52L168.00 45.82Z" fill="#0000ff"/>
<path d="M166.35 42.74L171.05 42.74L168.70 47.04Z" fill="#0000ff"/>
<path d="M167.05 43.30L171.75 43.30L169.40 47.60Z" fill="#0000ff"/>
<path d="M167.75 43.66L172.45 43.66L170.10 47.96Z" fill="#0000ff"/>
<path d="M168.45 42.79L173.15 42.79L170.80 47.09Z" fill="#0000ff"/>
<path d="M169.15 44.17L173.85 44.17L171.50 48.47Z" fill="#0000ff"/>
<path d="M169.85 43.47L174.55 43.47L172.20 47.77Z" fill="#0000ff"/>
<path d="M170.55 43.95L175.25 43.95L172.90 48.25Z" fill="#0000ff"/>
<path d="M171.25 44.79L175.95 44.79L173.60 49.09Z" fill="#0000ff"/>
<path d="M171.95 43.92L176.65 43.92L174.30 48.22Z" fill="#0000ff"/>
<path d="M172.65 44.22L177.35 44.22L175.00 48.52Z" fill="#0000ff"/>
<path d="M173.35 45.85L178.05 45.85L175.70 50.15Z" fill="#0000ff"/>
<path d="M174.05 45.18L178.75 45.18L176.40 49.48Z" fill="#0000ff"/>
<path d="M174.75 45.60L179.45 45.60L177.10 49.90Z" fill="#0000ff"/>
<path d="M175.45 46.30L180.15 46.30L177.80 50.60Z" fill="#0000ff"/>
<path d="M176.15 46.78L180.85 46.78L178.50 51.08Z" fill="#0000ff"/>
<path d="M176.85 45.87L181.55 45.87L179.20 50.17Z" fill="#0000ff"/>
<path d="M177.55 46.77L182.25 46.77L179.90 51.07Z" fill="#0000ff"/>
<path d="M178.25 47.25L182.95 47.25L180.60 51.55Z" fill="#0000ff"/>
<path d="M178.95 47.64L183.65 47.64L181.30 51.94Z" fill="#0000ff"/>
<path d="M179.65 47.45L184.35 47.45L182.00 51.75Z" fill="#0000ff"/>
<path d="M180.35 48.42L185.05 48.42L182.70 52.72Z" fill="#0000ff"/>
<path d="M181.05 49.39L185.75 49.39L183.40 53.69Z" fill="#0000ff"/>
<path d="M181.75 48.68L186.45 48.68L184.10 52.98Z" fill="#0000ff"/>
<path d="M182.45 49.26L187.15 49.26L184.80 53.56Z" fill="#0000ff"/>
<path d="M183.15 48.79L187.85 48.79L185.50 53.09Z" fill="#0000ff"/>
<path d="M183.85 49.37L188.55 49.37L186.20 53.67Z" fill="#0000ff"/>
<path d="M184.55 50.38L189.25 50.38L186.90 54.68Z" fill="#0000ff"/>
<path d="M185.25 49.69L189.95 49.69L187.60 53.99Z" fill="#0000ff"/>
<path d="M185.95 51.38L190.65 51.38L188.30 55.68Z" fill="#0000ff"/>
<path d="M186.65 51.72L191.35 51.72L189.00 56.02Z" fill="#0000ff"/>
<path d="M187.35 50.56L192.05 50.56L189.70 54.86Z" fill="#0000ff"/>
<path d="M188.05 52.39L192.75 52.39L190.40 56.69Z" fill="#0000ff"/>
<path d="M188.75 51.66L193.45 51.66L191.10 55.96Z" fill="#0000ff"/>
<path d="M189.45 52.65L194.15 52.65L191.80 56.95Z" fill="#0000ff"/>
<path d="M190.15 52.89L194.85 52.89L192.50 57.19Z" fill="#0000ff"/>
<path d="M190.85 52.33L195.55 52.33L193.20 56.63Z" fill="#0000ff"/>
<path d="M191.55 53.28L196.25 53.28L193.90 57.58Z" fill="#0000ff"/>
<path d="M192.25 53.51L196.95 53.51L194.60 57.81Z" fill="#0000ff"/>
<path d="M192.95 54.05L197.65 54.05L195.30 58.35Z" fill="#0000ff"/>
<path d="M193.65 53.34L198.35 53.34L196.00 57.64Z" fill="#0000ff"/>
<path d="M194.35 54.49L199.05 54.49L196.70 58.79Z" fill="#0000ff"/>
<path d="M195.05 55.11L199.75 55.11L197.40 59.41Z" fill="#0000ff"/>
<path d="M195.75 54.82L200.45 54.82L198.10 59.12Z" fill="#0000ff"/>
<path d="M196.45 54.80L201.15 54.80L198.80 59.10Z" fill="#0000ff"/>
<path d="M197.15 54.27L201.85 54.27L199.50 58.57Z" fill="#0000ff"/>
<path d="M197.85 55.18L202.55 55.18L200.20 59.48Z" fill="#0000ff"/>
<path d="M198.55 55.15L203.25 55.15L200.90 59.45Z" fill="#0000ff"/>
<path d="M199.25 56.29L203.95 56.29L201.60 60.59Z" fill="#0000ff"/>
<path d="M199.95 56.75L204.65 56.75L202.30 61.05Z" fill="#0000ff"/>
<path d="M200.65 57.07L205.35 57.07L203.00 61.37Z" fill="#0000ff"/>
<path d="M201.35 56.90L206.05 56.90L203.70 61.20Z" fill="#0000ff"/>
<path d="M202.05 58.26L206.75 58.26L204.40 62.56Z" fill="#0000ff"/>
<path d="M202.75 58.74L207.45 58.74L205.10 63.04Z" fill="#0000ff"/>
<path d="M203.45 58.35L208.15 58.35L205.80 62.65Z" fill="#0000ff"/>
<path d="M204.15 60.04L208.85 60.04L206.50 64.34Z" fill="#0000ff"/>
<path d="M204.85 60.03L209.55 60.03L207.20 64.33Z" fill="#0000ff"/>
<path d="M205.55 59.49L210.25 59.49L207.90 63.79Z" fill="#0000ff"/>
<path d="M206.25 61.36L210.95 61.36L208.60 65.66Z" fill="#0000ff"/>
<path d="M206.95 60.36L211.65 60.36L209.30 64.66Z" fill="#0000ff"/>
<path d="M207.65 61.11L212.35 61.11L210.00 65.41Z" fill="#0000ff"/>
<path d="M208.35 62.23L213.05 62.23L210.70 66.53Z" fill="#0000ff"/>
<path d="M209.05 62.42L213.75 62.42L211.40 66.72Z" fill="#0000ff"/>
<path d="M209.75 62.76L214.45 62.76L212.10 67.06Z" fill="#0000ff"/>
<path d="M210.45 63.34L215.15 63.34L212.80 67.64Z" fill="#0000ff"/>
<path d="M211.15 63.42L215.85 63.42L213.50 67.72Z" fill="#0000ff"/>
<path d="M211.85 63.57L216.55 63.57L214.20 67.87Z" fill="#0000ff"/>
<path d="M212.55 63.74L217.25 63.74L214.90 68.04Z" fill="#0000ff"/>
<path d="M213.25 63.96L217.95 63.96L215.60 68.26Z" fill="#0000ff"/>
<path d="M213.95 65.54L218.65 65.54L216.30 69.84Z" fill="#0000ff"/>
<path d="M214.65 66.05L219.35 66.05L217.00 70.35Z" fill="#0000ff"/>
<path d="M215.35 66.17L220.05 66.17L217.70 70.47Z" fill="#0000ff"/>
<path d="M216.05 67.03L220.75 67.03L218.40 71.33Z" fill="#0000ff"/>
<path d="M216.75 66.85L221.45 66.85L219.10 71.15Z" fill="#0000ff"/>
<path d="M217.45 67.18L222.15 67.18L219.80 71.48Z" fill="#0000ff"/>
<path d="M218.15 67.86L222.85 67.86L220.50 72.16Z" fill="#0000ff"/>
<path d="M218.85 69.18L223.55 69.18L221.20 73.48Z" fill="#0000ff"/>
<path d="M219.55 68.13L224.25 68.13L221.90 72.43Z" fill="#0000ff"/>
<path d="M220.25 69.41L224.95 69.41L222.60 73.71Z" fill="#0000ff"/>
<path d="M220.95 69.39L225.65 69.39L223.30 73.69Z" fill="#0000ff"/>
<path d="M221.65 70.56L226.35 70.56L224.00 74.86Z" fill="#0000ff"/>
<path d="M222.35 70.05L227.05 70.05L224.70 74.35Z" fill="#0000ff"/>
<path d="M223.05 70.24L227.75 70.24L225.40 74.54Z" fill="#0000ff"/>
<path d="M223.75 70.60L228.45 70.60L226.10 74.90Z" fill="#0000ff"/>
<path d="M224.45 71.08L229.15 71.08L226.80 75.38Z" fill="#0000ff"/>
<path d="M225.15 71.72L229.85 71.72L227.50 76.02Z" fill="#0000ff"/>
<path d="M225.85 71.20L230.55 71.20L228.20 75.50Z" fill="#0000ff"/>
<path d="M226.55 72.32L231.25 72.32L228.90 76.62Z" fill="#0000ff"/>
<path d="M227.25 71.23L231.95 71.23L229.60 75.53Z" fill="#0000ff"/>
<path d="M227.95 71.75L232.65 71.75L230.30 76.05Z" fill="#0000ff"/>
<path d="M228.65 71.67L233.35 71.67L231.00 75.97Z" fill="#0000ff"/>
<path d="M229.35 71.92L234.05 71.92L231.70 76.22Z" fill="#0000ff"/>
<path d="M230.05 73.35L234.75 73.35L232.40 77.65Z" fill="#0000ff"/>
<path d="M230.75 73.51L235.45 73.51L233.10 77.81Z" fill="#0000ff"/>
<path d="M231.45 72.90L236.15 72.90L233.80 77.20Z" fill="#0000ff"/>
<path d="M232.15 73.28L236.85 73.28L234.50 77.58Z" fill="#0000ff"/>
<path d="M232.85 74.06L237.55 74.06L235.20 78.36Z" fill="#0000ff"/>
<path d="M233.55 75.01L238.25 75.01L235.90 79.31Z" fill="#0000ff"/>
<path d="M234.25 75.51L238.95 75.51L236.60 79.81Z" fill="#0000ff"/>
<path d="M234.95 75.76L239.65 75.76L237.30 80.06Z" fill="#0000ff"/>
<path d="M235.65 75.84L240.35 75.84L238.00 80.14Z" fill="#0000ff"/>
<path d="M236.35 75.41L241.05 75.41L238.70 79.71Z" fill="#0000ff"/>
<path d="M237.05 76.18L241.75 76.18L239.40 80.48Z" fill="#0000ff"/>
<path d="M237.75 76.11L242.45 76.11L240.10 80.41Z" fill="#0000ff"/>
<path d="M238.45 77.01L243.15 77.01L240.80 81.31Z" fill="#0000ff"/>
<path d="M239.15 77.38L243.85 77.38L241.50 81.68Z" fill="#0000ff"/>
<path d="M239.85 77.02L244.55 77.02L242.20 81.32Z" fill="#0000ff"/>
<path d="M240.55 77.41L245.25 77.41L242.90 81.71Z" fill="#0000ff"/>
<path d="M241.25 78.66L245.95 78.66L243.60 82.96Z" fill="#0000ff"/>
<path d="M241.95 77.61L246.65 77.61L244.30 81.91Z" fill="#0000ff"/>
<path d="M242.65 79.30L247.35 79.30L245.00 83.60Z" fill="#0000ff"/>
<path d="M243.35 79.75L248.05 79.75L245.70 84.05Z" fill="#0000ff"/>
<path d="M244.05 80.16L248.75 80.16L246.40 84.46Z" fill="#0000ff"/>
<path d="M244.75 79.44L249.45 79.44L247.10 83.74Z" fill="#0000ff"/>
<path d="M245.45 80.04L250.15 80.04L247.80 84.34Z" fill="#0000ff"/>
<path d="M246.15 80.39L250.85 80.39L248.50 84.69Z" fill="#0000ff"/>
<path d="M246.85 80.78L251.55 80.78L249.20 85.08Z" fill="#0000ff"/>
<path d="M247.55 81.70L252.25 81.70L249.90 86.00Z" fill="#0000ff"/>
<path d="M248.25 81.47L252.95 81.47L250.60 85.77Z" fill="#0000ff"/>
<path d="M248.95 81.08L253.65 81.08L251.30 85.38Z" fill="#0000ff"/>
<path d="M249.65 82.42L254.35 82.42L252.00 86.72Z" fill="#0000ff"/>
<path d="M250.35 82.19L255.05 82.19L252.70 86.49Z" fill="#0000ff"/>
<path d="M251.05 82.84L255.75 82.84L253.40 87.14Z" fill="#0000ff"/>
<path d="M251.75 83.51L256.45 83.51L254.10 87.81Z" fill="#0000ff"/>
<path d="M252.45 82.65L257.15 82.65L254.80 86.95Z" fill="#0000ff"/>
<path d="M253.15 84.47L257.85 84.47L255.50 88.77Z" fill="#0000ff"/>
<path d="M254.25 84.97L258.95 84.97L256.60 89.27Z" fill="#0000ff"/>
<path d="M255.35 85.36L260.05 85.36L257.70 89.66Z" fill="#0000ff"/>
<path d="M256.45 86.11L261.15 86.11L258.80 90.41Z" fill="#0000ff"/>
<path d="M257.55 86.69L262.25 86.69L259.90 90.99Z" fill="#0000ff"/>
<path d="M258.65 86.90L263.35 86.90L261.00 91.20Z" fill="#0000ff"/>
<path d="M259.75 88.20L264.45 88.20L262.10 92.50Z" fill="#0000ff"/>
<path d="M260.85 88.01L265.55 88.01L263.20 92.31Z" fill="#0000ff"/>
<path d="M261.95 89.53L266.65 89.53L264.30 93.83Z" fill="#0000ff"/>
<path d="M263.05 90.48L267.75 90.48L265.40 94.78Z" fill="#0000ff"/>
<path d="M264.16 90.79L268.86 90.79L266.51 95.09Z" fill="#0000ff"/>
<path d="M265.27 91.68L269.97 91.68L267.62 95.98Z" fill="#0000ff"/>
<path d="M266.38 93.07L271.08 93.07L268.73 97.37Z" fill="#0000ff"/>
<path d="M267.49 93.62L272.19 93.62L269.84 97.92Z" fill="#0000ff"/>
<path d="M268.60 92.94L273.30 92.94L270.95 97.24Z" fill="#0000ff"/>
<path d="M269.71 94.79L274.41 94.79L272.06 99.09Z" fill="#0000ff"/>
<path d="M270.82 95.17L275.52 95.17L273.17 99.47Z" fill="#0000ff"/>
<path d="M271.93 94.81L276.63 94.81L274.28 99.11Z" fill="#0000ff"/>
<path d="M273.04 96.04L277.74 96.04L275.39 100.34Z" fill="#0000ff"/>
<path d="M71.70 22.35L76.40 22.35L74.05 26.65Z" fill="#0000ff"/>
<path d="M79.60 22.35L84.30 22.35L81.95 26.65Z" fill="#0000ff"/>
<path d="M83.10 22.35L87.80 22.35L85.45 26.65Z" fill="#0000ff"/>
<path d="M277.15 100.05L281.85 100.05L279.50 104.35Z" fill="#0000ff"/>
<path d="M282.35 103.35L287.05 103.35L284.70 107.65Z" fill="#0000ff"/>
<path d="M290.15 105.85L294.85 105.85L292.50 110.15Z" fill="#0000ff"/>
<path d="M299.15 109.65L303.85 109.65L301.50 113.95Z" fill="#0000ff"/>
<path d="M300.95 111.35L305.65 111.35L303.30 115.65Z" fill="#0000ff"/>
<path d="M314.15 113.65L318.85 113.65L316.50 117.95Z" fill="#0000ff"/>
<path d="M315.85 115.65L320.55 115.65L318.20 119.95Z" fill="#0000ff"/>
<path d="M317.25 118.85L321.95 118.85L319.60 123.15Z" fill="#0000ff"/>
<path d="M318.15 122.15L322.85 122.15L320.50 126.45Z" fill="#0000ff"/>
<path d="M321.95 125.45L326.65 125.45L324.30 129.75Z" fill="#0000ff"/>
<path d="M328.45 128.55L333.15 128.55L330.80 132.85Z" fill="#0000ff"/>
<path d="M333.95 132.35L338.65 132.35L336.30 136.65Z" fill="#0000ff"/>
<path d="M336.55 136.25L341.25 136.25L338.90 140.55Z" fill="#0000ff"/>
<path d="M341.35 141.75L346.05 141.75L343.70 146.05Z" fill="#0000ff"/>
<path d="M342.25 147.25L346.95 147.25L344.60 151.55Z" fill="#0000ff"/>
<path d="M346.85 154.85L351.55 154.85L349.20 159.15Z" fill="#0000ff"/>
<path d="M348.15 166.05L352.85 166.05L350.50 170.35Z" fill="#0000ff"/>
<path d="M379.85 184.15L384.55 184.15L382.20 188.45Z" fill="#0000ff"/>
<circle cx="122.50" cy="8.87" r="2.2" fill="#00ff00"/>
<circle cx="123.30" cy="8.86" r="2.2" fill="#00ff00"/>
<circle cx="124.10" cy="9.16" r="2.2" fill="#00ff00"/>
<circle cx="124.90" cy="9.43" r="2.2" fill="#00ff00"/>
<circle cx="125.70" cy="9.20" r="2.2" fill="#00ff00"/>
<circle cx="126.50" cy="9.54" r="2.2" fill="#00ff00"/>
<circle cx="127.30" cy="9.66" r="2.2" fill="#00ff00"/>
<circle cx="128.10" cy="9.27" r="2.2" fill="#00ff00"/>
<circle cx="128.90" cy="10.17" r="2.2" fill="#00ff00"/>
<circle cx="129.70" cy="10.09" r="2.2" fill="#00ff00"/>
<circle cx="130.50" cy="10.59" r="2.2" fill="#00ff00"/>
<circle cx="131.30" cy="10.55" r="2.2" fill="#00ff00"/>
<circle cx="132.10" cy="10.75" r="2.2" fill="#00ff00"/>
<circle cx="132.90" cy="10.49" r="2.2" fill="#00ff00"/>
<circle cx="133.70" cy="11.26" r="2.2" fill="#00ff00"/>
<circle cx="134.50" cy="11.62" r="2.2" fill="#00ff00"/>
<circle cx="135.30" cy="11.75" r="2.2" fill="#00ff00"/>
<circle cx="136.10" cy="11.46" r="2.2" fill="#00ff00"/>
<circle cx="136.90" cy="12.06" r="2.2" fill="#00ff00"/>
<circle cx="137.70" cy="11.95" r="2.2" fill="#00ff00"/>
<circle cx="138.50" cy="11.72" r="2.2" fill="#00ff00"/>
<circle cx="139.30" cy="11.85" r="2.2" fill="#00ff00"/>
<circle cx="140.10" cy="12.11" r="2.2" fill="#00ff00"/>
<circle cx="140.90" cy="12.47" r="2.2" fill="#00ff00"/>
<circle cx="141.70" cy="12.64" r="2.2" fill="#00ff00"/>
<circle cx="142.50" cy="13.26" r="2.2" fill="#00ff00"/>
<circle cx="143.30" cy="13.75" r="2.2" fill="#00ff00"/>
<circle cx="144.10" cy="13.84" r="2.2" fill="#00ff00"/>
<circle cx="144.90" cy="13.99" r="2.2" fill="#00ff00"/>
<circle cx="145.70" cy="14.54" r="2.2" fill="#00ff00"/>
<circle cx="146.50" cy="14.42" r="2.2" fill="#00ff00"/>
<circle cx="147.30" cy="14.89" r="2.2" fill="#00ff00"/>
<circle cx="148.10" cy="15.53" r="2.2" fill="#00ff00"/>
<circle cx="148.90" cy="15.39" r="2.2" fill="#00ff00"/>
<circle cx="149.70" cy="15.41" r="2.2" fill="#00ff00"/>
<circle cx="150.50" cy="16.59" r="2.2" fill="#00ff00"/>
<circle cx="151.30" cy="16.70" r="2.2" fill="#00ff00"/>
<circle cx="152.10" cy="16.61" r="2.2" fill="#00ff00"/>
<circle cx="152.90" cy="16.95" r="2.2" fill="#00ff00"/>
<circle cx="153.70" cy="17.47" r="2.2" fill="#00ff00"/>
<circle cx="154.50" cy="17.88" r="2.2" fill="#00ff00"/>
<circle cx="155.30" cy="17.76" r="2.2" fill="#00ff00"/>
<circle cx="156.10" cy="17.83" r="2.2" fill="#00ff00"/>
<circle cx="156.90" cy="18.41" r="2.2" fill="#00ff00"/>
<circle cx="157.70" cy="19.43" r="2.2" fill="#00ff00"/>
<circle cx="158.50" cy="18.99" r="2.2" fill="#00ff00"/>
<circle cx="159.30" cy="19.77" r="2.2" fill="#00ff00"/>
<circle cx="160.10" cy="19.87" r="2.2" fill="#00ff00"/>
<circle cx="160.90" cy="20.30" r="2.2" fill="#00ff00"/>
<circle cx="161.70" cy="20.68" r="2.2" fill="#00ff00"/>
<circle cx="162.50" cy="21.37" r="2.2" fill="#00ff00"/>
<circle cx="163.30" cy="21.51" r="2.2" fill="#00ff00"/>
<circle cx="164.10" cy="21.76" r="2.2" fill="#00ff00"/>
<circle cx="164.90" cy="22.28" r="2.2" fill="#00ff00"/>
<circle cx="165.70" cy="22.70" r="2.2" fill="#00ff00"/>
<circle cx="166.50" cy="23.42" r="2.2" fill="#00ff00"/>
<circle cx="167.30" cy="23.24" r="2.2" fill="#00ff00"/>
<circle cx="168.10" cy="23.53" r="2.2" fill="#00ff00"/>
<circle cx="168.90" cy="24.38" r="2.2" fill="#00ff00"/>
<circle cx="169.70" cy="24.66" r="2.2" fill="#00ff00"/>
<circle cx="170.50" cy="25.35" r="2.2" fill="#00ff00"/>
<circle cx="171.30" cy="24.91" r="2.2" fill="#00ff00"/>
<circle cx="172.10" cy="25.67" r="2.2" fill="#00ff00"/>
<circle cx="172.90" cy="25.99" r="2.2" fill="#00ff00"/>
<circle cx="173.70" cy="25.89" r="2.2" fill="#00ff00"/>
<circle cx="174.50" cy="27.35" r="2.2" fill="#00ff00"/>
<circle cx="175.30" cy="26.79" r="2.2" fill="#00ff00"/>
<circle cx="176.10" cy="26.99" r="2.2" fill="#00ff00"/>
<circle cx="176.90" cy="27.80" r="2.2" fill="#00ff00"/>
<circle cx="177.70" cy="27.78" r="2.2" fill="#00ff00"/>
<circle cx="178.50" cy="28.68" r="2.2" fill="#00ff00"/>
<circle cx="179.30" cy="28.70" r="2.2" fill="#00ff00"/>
<circle cx="180.10" cy="28.78" r="2.2" fill="#00ff00"/>
<circle cx="180.90" cy="29.04" r="2.2" fill="#00ff00"/>
<circle cx="181.70" cy="30.20" r="2.2" fill="#00ff00"/>
<circle cx="182.50" cy="30.01" r="2.2" fill="#00ff00"/>
<circle cx="183.30" cy="30.98" r="2.2" fill="#00ff00"/>
<circle cx="184.10" cy="30.94" r="2.2" fill="#00ff00"/>
<circle cx="184.90" cy="31.85" r="2.2" fill="#00ff00"/>
<circle cx="185.70" cy="31.44" r="2.2" fill="#00ff00"/>
<circle cx="186.50" cy="31.73" r="2.2" fill="#00ff00"/>
<circle cx="187.30" cy="32.10" r="2.2" fill="#00ff00"/>
<circle cx="188.10" cy="33.11" r="2.2" fill="#00ff00"/>
<circle cx="188.90" cy="33.24" r="2.2" fill="#00ff00"/>
<circle cx="189.70" cy="33.24" r="2.2" fill="#00ff00"/>
<circle cx="190.50" cy="33.29" r="2.2" fill="#00ff00"/>
<circle cx="191.30" cy="34.38" r="2.2" fill="#00ff00"/>
<circle cx="192.10" cy="35.16" r="2.2" fill="#00ff00"/>
<circle cx="192.90" cy="35.14" r="2.2" fill="#00ff00"/>
<circle cx="193.70" cy="34.87" r="2.2" fill="#00ff00"/>
<circle cx="194.50" cy="35.34" r="2.2" fill="#00ff00"/>
<circle cx="195.30" cy="35.84" r="2.2" fill="#00ff00"/>
<circle cx="196.10" cy="36.37" r="2.2" fill="#00ff00"/>
<circle cx="196.90" cy="36.65" r="2.2" fill="#00ff00"/>
<circle cx="197.70" cy="37.10" r="2.2" fill="#00ff00"/>
<circle cx="198.50" cy="38.09" r="2.2" fill="#00ff00"/>
<circle cx="199.30" cy="38.55" r="2.2" fill="#00ff00"/>
<circle cx="200.10" cy="37.97" r="2.2" fill="#00ff00"/>
<circle cx="200.90" cy="39.02" r="2.2" fill="#00ff00"/>
<circle cx="201.70" cy="38.66" r="2.2" fill="#00ff00"/>
<circle cx="202.50" cy="39.22" r="2.2" fill="#00ff00"/>
<circle cx="203.30" cy="39.76" r="2.2" fill="#00ff00"/>
<circle cx="204.10" cy="40.49" r="2.2" fill="#00ff00"/>
<circle cx="204.90" cy="40.10" r="2.2" fill="#00ff00"/>
<circle cx="205.70" cy="41.13" r="2.2" fill="#00ff00"/>
<circle cx="206.50" cy="42.19" r="2.2" fill="#00ff00"/>
<circle cx="207.30" cy="43.21" r="2.2" fill="#00ff00"/>
<circle cx="208.10" cy="42.65" r="2.2" fill="#00ff00"/>
<circle cx="208.90" cy="43.36" r="2.2" fill="#00ff00"/>
<circle cx="209.70" cy="44.49" r="2.2" fill="#00ff00"/>
<circle cx="210.50" cy="44.07" r="2.2" fill="#00ff00"/>
<circle cx="211.30" cy="44.87" r="2.2" fill="#00ff00"/>
<circle cx="212.10" cy="45.27" r="2.2" fill="#00ff00"/>
<circle cx="212.90" cy="46.15" r="2.2" fill="#00ff00"/>
<circle cx="213.70" cy="46.91" r="2.2" fill="#00ff00"/>
<circle cx="214.50" cy="46.47" r="2.2" fill="#00ff00"/>
<circle cx="215.30" cy="47.62" r="2.2" fill="#00ff00"/>
<circle cx="216.10" cy="48.07" r="2.2" fill="#00ff00"/>
<circle cx="216.90" cy="48.65" r="2.2" fill="#00ff00"/>
<circle cx="217.70" cy="48.65" r="2.2" fill="#00ff00"/>
<circle cx="218.50" cy="49.43" r="2.2" fill="#00ff00"/>
<circle cx="219.30" cy="49.10" r="2.2" fill="#00ff00"/>
<circle cx="220.10" cy="49.51" r="2.2" fill="#00ff00"/>
<circle cx="220.90" cy="49.63" r="2.2" fill="#00ff00"/>
<circle cx="221.70" cy="50.63" r="2.2" fill="#00ff00"/>
<circle cx="222.50" cy="50.61" r="2.2" fill="#00ff00"/>
<circle cx="223.30" cy="50.70" r="2.2" fill="#00ff00"/>
<circle cx="224.10" cy="50.92" r="2.2" fill="#00ff00"/>
<circle cx="224.90" cy="51.92" r="2.2" fill="#00ff00"/>
<circle cx="225.70" cy="52.22" r="2.2" fill="#00ff00"/>
<circle cx="226.50" cy="52.79" r="2.2" fill="#00ff00"/>
<circle cx="227.30" cy="52.85" r="2.2" fill="#00ff00"/>
<circle cx="228.10" cy="53.42" r="2.2" fill="#00ff00"/>
<circle cx="228.90" cy="53.47" r="2.2" fill="#00ff00"/>
<circle cx="229.70" cy="54.58" r="2.2" fill="#00ff00"/>
<circle cx="230.50" cy="54.18" r="2.2" fill="#00ff00"/>
<circle cx="231.30" cy="55.11" r="2.2" fill="#00ff00"/>
<circle cx="232.10" cy="55.86" r="2.2" fill="#00ff00"/>
<circle cx="232.90" cy="56.16" r="2.2" fill="#00ff00"/>
<circle cx="233.70" cy="55.87" r="2.2" fill="#00ff00"/>
<circle cx="234.50" cy="56.43" r="2.2" fill="#00ff00"/>
<circle cx="235.30" cy="57.56" r="2.2" fill="#00ff00"/>
<circle cx="236.10" cy="57.72" r="2.2" fill="#00ff00"/>
<circle cx="236.90" cy="58.40" r="2.2" fill="#00ff00"/>
<circle cx="237.70" cy="58.80" r="2.2" fill="#00ff00"/>
<circle cx="238.50" cy="58.68" r="2.2" fill="#00ff00"/>
<circle cx="239.30" cy="59.60" r="2.2" fill="#00ff00"/>
<circle cx="240.10" cy="59.79" r="2.2" fill="#00ff00"/>
<circle cx="240.90" cy="59.69" r="2.2" fill="#00ff00"/>
<circle cx="241.70" cy="60.12" r="2.2" fill="#00ff00"/>
<circle cx="242.50" cy="60.14" r="2.2" fill="#00ff00"/>
<circle cx="243.30" cy="61.05" r="2.2" fill="#00ff00"/>
<circle cx="244.10" cy="62.32" r="2.2" fill="#00ff00"/>
<circle cx="244.90" cy="61.90" r="2.2" fill="#00ff00"/>
<circle cx="245.70" cy="63.06" r="2.2" fill="#00ff00"/>
<circle cx="246.50" cy="62.89" r="2.2" fill="#00ff00"/>
<circle cx="247.30" cy="63.12" r="2.2" fill="#00ff00"/>
<circle cx="248.10" cy="64.06" r="2.2" fill="#00ff00"/>
<circle cx="248.90" cy="63.83" r="2.2" fill="#00ff00"/>
<circle cx="249.70" cy="63.86" r="2.2" fill="#00ff00"/>
<circle cx="250.50" cy="64.33" r="2.2" fill="#00ff00"/>
<circle cx="251.30" cy="65.31" r="2.2" fill="#00ff00"/>
<circle cx="252.10" cy="65.63" r="2.2" fill="#00ff00"/>
<circle cx="252.90" cy="65.33" r="2.2" fill="#00ff00"/>
<circle cx="253.70" cy="65.99" r="2.2" fill="#00ff00"/>
<circle cx="254.50" cy="67.26" r="2.2" fill="#00ff00"/>
<circle cx="255.30" cy="66.76" r="2.2" fill="#00ff00"/>
<circle cx="256.10" cy="67.56" r="2.2" fill="#00ff00"/>
<circle cx="256.90" cy="67.78" r="2.2" fill="#00ff00"/>
<circle cx="257.70" cy="68.61" r="2.2" fill="#00ff00"/>
<circle cx="258.50" cy="68.79" r="2.2" fill="#00ff00"/>
<circle cx="259.30" cy="69.40" r="2.2" fill="#00ff00"/>
<circle cx="260.10" cy="69.46" r="2.2" fill="#00ff00"/>
<circle cx="260.90" cy="69.40" r="2.2" fill="#00ff00"/>
<circle cx="261.70" cy="69.74" r="2.2" fill="#00ff00"/>
<circle cx="262.50" cy="69.97" r="2.2" fill="#00ff00"/>
<circle cx="263.30" cy="71.22" r="2.2" fill="#00ff00"/>
<circle cx="264.10" cy="70.71" r="2.2" fill="#00ff00"/>
<circle cx="264.90" cy="70.96" r="2.2" fill="#00ff00"/>
<circle cx="265.70" cy="72.44" r="2.2" fill="#00ff00"/>
<circle cx="266.50" cy="71.87" r="2.2" fill="#00ff00"/>
<circle cx="267.30" cy="73.06" r="2.2" fill="#00ff00"/>
<circle cx="268.10" cy="72.44" r="2.2" fill="#00ff00"/>
<circle cx="268.90" cy="73.26" r="2.2" fill="#00ff00"/>
<circle cx="269.70" cy="73.40" r="2.2" fill="#00ff00"/>
<circle cx="270.50" cy="74.55" r="2.2" fill="#00ff00"/>
<circle cx="271.30" cy="74.71" r="2.2" fill="#00ff00"/>
<circle cx="272.10" cy="75.17" r="2.2" fill="#00ff00"/>
<circle cx="272.90" cy="75.73" r="2.2" fill="#00ff00"/>
<circle cx="273.70" cy="76.29" r="2.2" fill="#00ff00"/>
<circle cx="274.50" cy="76.25" r="2.2" fill="#00ff00"/>
<circle cx="275.30" cy="77.25" r="2.2" fill="#00ff00"/>
<circle cx="276.10" cy="77.76" r="2.2" fill="#00ff00"/>
<circle cx="276.90" cy="78.05" r="2.2" fill="#00ff00"/>
<circle cx="277.70" cy="79.49" r="2.2" fill="#00ff00"/>
<circle cx="88.95" cy="8.90" r="2.2" fill="#00ff00"/>
<circle cx="92.20" cy="8.90" r="2.2" fill="#00ff00"/>
<circle cx="97.40" cy="8.90" r="2.2" fill="#00ff00"/>
<circle cx="105.30" cy="8.90" r="2.2" fill="#00ff00"/>
<circle cx="108.80" cy="8.90" r="2.2" fill="#00ff00"/>
<circle cx="115.90" cy="8.90" r="2.2" fill="#00ff00"/>
<circle cx="280.00" cy="83.00" r="2.2" fill="#00ff00"/>
<circle cx="283.50" cy="86.00" r="2.2" fill="#00ff00"/>
<circle cx="286.70" cy="88.30" r="2.2" fill="#00ff00"/>
<circle cx="289.30" cy="89.60" r="2.2" fill="#00ff00"/>
<circle cx="292.50" cy="91.00" r="2.2" fill="#00ff00"/>
<circle cx="295.70" cy="92.20" r="2.2" fill="#00ff00"/>
<circle cx="298.30" cy="94.80" r="2.2" fill="#00ff00"/>
<circle cx="300.90" cy="96.90" r="2.2" fill="#00ff00"/>
<circle cx="307.40" cy="99.20" r="2.2" fill="#00ff00"/>
<circle cx="316.50" cy="101.30" r="2.2" fill="#00ff00"/>
<circle cx="317.80" cy="103.90" r="2.2" fill="#00ff00"/>
<circle cx="320.40" cy="106.50" r="2.2" fill="#00ff00"/>
<circle cx="322.20" cy="108.50" r="2.2" fill="#00ff00"/>
<circle cx="329.60" cy="112.60" r="2.2" fill="#00ff00"/>
<circle cx="333.20" cy="115.90" r="2.2" fill="#00ff00"/>
<circle cx="337.10" cy="119.10" r="2.2" fill="#00ff00"/>
<circle cx="343.60" cy="123.30" r="2.2" fill="#00ff00"/>
<circle cx="346.80" cy="128.00" r="2.2" fill="#00ff00"/>
<circle cx="348.70" cy="134.30" r="2.2" fill="#00ff00"/>
<circle cx="349.30" cy="141.70" r="2.2" fill="#00ff00"/>
<circle cx="368.60" cy="152.80" r="2.2" fill="#00ff00"/>
<circle cx="387.50" cy="171.75" r="2.2" fill="#00ff00"/>
<path d="M130.45 11.11L135.15 11.11L132.80 6.81Z" fill="#ff0000"/>
<path d="M132.05 11.34L136.75 11.34L134.40 7.04Z" fill="#ff0000"/>
<path d="M133.65 11.05L138.35 11.05L136.00 6.75Z" fill="#ff0000"/>
<path d="M135.25 11.35L139.95 11.35L137.60 7.05Z" fill="#ff0000"/>
<path d="M136.85 11.40L141.55 11.40L139.20 7.10Z" fill="#ff0000"/>
<path d="M138.45 11.66L143.15 11.66L140.80 7.36Z" fill="#ff0000"/>
<path d="M140.05 11.34L144.75 11.34L142.40 7.04Z" fill="#ff0000"/>
<path d="M141.65 11.60L146.35 11.60L144.00 7.30Z" fill="#ff0000"/>
<path d="M143.25 11.78L147.95 11.78L145.60 7.48Z" fill="#ff0000"/>
<path d="M144.85 11.62L149.55 11.62L147.20 7.32Z" fill="#ff0000"/>
<path d="M146.45 12.01L151.15 12.01L148.80 7.71Z" fill="#ff0000"/>
<path d="M148.05 12.38L152.75 12.38L150.40 8.08Z" fill="#ff0000"/>
<path d="M148.75 12.11L153.45 12.11L151.10 7.81Z" fill="#ff0000"/>
<path d="M149.45 12.48L154.15 12.48L151.80 8.18Z" fill="#ff0000"/>
<path d="M150.15 12.52L154.85 12.52L152.50 8.22Z" fill="#ff0000"/>
<path d="M150.85 12.16L155.55 12.16L153.20 7.86Z" fill="#ff0000"/>
<path d="M151.55 12.42L156.25 12.42L153.90 8.12Z" fill="#ff0000"/>
<path d="M152.25 13.28L156.95 13.28L154.60 8.98Z" fill="#ff0000"/>
<path d="M152.95 12.60L157.65 12.60L155.30 8.30Z" fill="#ff0000"/>
<path d="M153.65 12.81L158.35 12.81L156.00 8.51Z" fill="#ff0000"/>
<path d="M154.35 12.50L159.05 12.50L156.70 8.20Z" fill="#ff0000"/>
<path d="M155.05 12.75L159.75 12.75L157.40 8.45Z" fill="#ff0000"/>
<path d="M155.75 12.79L160.45 12.79L158.10 8.49Z" fill="#ff0000"/>
<path d="M156.45 13.79L161.15 13.79L158.80 9.49Z" fill="#ff0000"/>
<path d="M157.15 13.65L161.85 13.65L159.50 9.35Z" fill="#ff0000"/>
<path d="M157.85 13.92L162.55 13.92L160.20 9.62Z" fill="#ff0000"/>
<path d="M158.55 14.15L163.25 14.15L160.90 9.85Z" fill="#ff0000"/>
<path d="M159.25 13.81L163.95 13.81L161.60 9.51Z" fill="#ff0000"/>
<path d="M159.95 14.28L164.65 14.28L162.30 9.98Z" fill="#ff0000"/>
<path d="M160.65 13.91L165.35 13.91L163.00 9.61Z" fill="#ff0000"/>
<path d="M161.35 13.87L166.05 13.87L163.70 9.57Z" fill="#ff0000"/>
<path d="M162.05 14.59L166.75 14.59L164.40 10.29Z" fill="#ff0000"/>
<path d="M162.75 14.80L167.45 14.80L165.10 10.50Z" fill="#ff0000"/>
<path d="M163.45 15.02L168.15 15.02L165.80 10.72Z" fill="#ff0000"/>
<path d="M164.15 14.43L168.85 14.43L166.50 10.13Z" fill="#ff0000"/>
<path d="M164.85 15.02L169.55 15.02L167.20 10.72Z" fill="#ff0000"/>
<path d="M165.55 14.58L170.25 14.58L167.90 10.28Z" fill="#ff0000"/>
<path d="M166.25 15.65L170.95 15.65L168.60 11.35Z" fill="#ff0000"/>
<path d="M166.95 15.67L171.65 15.67L169.30 11.37Z" fill="#ff0000"/>
<path d="M167.65 14.82L172.35 14.82L170.00 10.52Z" fill="#ff0000"/>
<path d="M168.35 15.97L173.05 15.97L170.70 11.67Z" fill="#ff0000"/>
<path d="M169.05 14.93L173.75 14.93L171.40 10.63Z" fill="#ff0000"/>
<path d="M169.75 14.93L174.45 14.93L172.10 10.63Z" fill="#ff0000"/>
<path d="M170.45 16.06L175.15 16.06L172.80 11.76Z" fill="#ff0000"/>
<path d="M171.15 15.53L175.85 15.53L173.50 11.23Z" fill="#ff0000"/>
<path d="M171.85 16.02L176.55 16.02L174.20 11.72Z" fill="#ff0000"/>
<path d="M172.55 16.41L177.25 16.41L174.90 12.11Z" fill="#ff0000"/>
<path d="M173.25 15.41L177.95 15.41L175.60 11.11Z" fill="#ff0000"/>
<path d="M173.95 17.04L178.65 17.04L176.30 12.74Z" fill="#ff0000"/>
<path d="M174.65 16.31L179.35 16.31L177.00 12.01Z" fill="#ff0000"/>
<path d="M175.35 16.84L180.05 16.84L177.70 12.54Z" fill="#ff0000"/>
<path d="M176.05 16.88L180.75 16.88L178.40 12.58Z" fill="#ff0000"/>
<path d="M176.75 17.89L181.45 17.89L179.10 13.59Z" fill="#ff0000"/>
<path d="M177.45 18.11L182.15 18.11L179.80 13.81Z" fill="#ff0000"/>
<path d="M178.15 17.41L182.85 17.41L180.50 13.11Z" fill="#ff0000"/>
<path d="M178.85 17.26L183.55 17.26L181.20 12.96Z" fill="#ff0000"/>
<path d="M179.55 17.86L184.25 17.86L181.90 13.56Z" fill="#ff0000"/>
<path d="M180.25 18.30L184.95 18.30L182.60 14.00Z" fill="#ff0000"/>
<path d="M180.95 17.85L185.65 17.85L183.30 13.55Z" fill="#ff0000"/>
<path d="M181.65 18.21L186.35 18.21L184.00 13.91Z" fill="#ff0000"/>
<path d="M182.35 19.65L187.05 19.65L184.70 15.35Z" fill="#ff0000"/>
<path d="M183.05 19.74L187.75 19.74L185.40 15.44Z" fill="#ff0000"/>
<path d="M183.75 20.50L188.45 20.50L186.10 16.20Z" fill="#ff0000"/>
<path d="M184.45 20.72L189.15 20.72L186.80 16.42Z" fill="#ff0000"/>
<path d="M185.15 20.73L189.85 20.73L187.50 16.43Z" fill="#ff0000"/>
<path d="M185.85 19.94L190.55 19.94L188.20 15.64Z" fill="#ff0000"/>
<path d="M186.55 19.73L191.25 19.73L188.90 15.43Z" fill="#ff0000"/>
<path d="M187.25 20.25L191.95 20.25L189.60 15.95Z" fill="#ff0000"/>
<path d="M187.95 20.76L192.65 20.76L190.30 16.46Z" fill="#ff0000"/>
<path d="M188.65 21.10L193.35 21.10L191.00 16.80Z" fill="#ff0000"/>
<path d="M189.35 21.39L194.05 21.39L191.70 17.09Z" fill="#ff0000"/>
<path d="M190.05 21.28L194.75 21.28L192.40 16.98Z" fill="#ff0000"/>
<path d="M190.75 22.52L195.45 22.52L193.10 18.22Z" fill="#ff0000"/>
<path d="M191.45 21.64L196.15 21.64L193.80 17.34Z" fill="#ff0000"/>
<path d="M192.15 22.25L196.85 22.25L194.50 17.95Z" fill="#ff0000"/>
<path d="M192.85 23.35L197.55 23.35L195.20 19.05Z" fill="#ff0000"/>
<path d="M193.55 23.45L198.25 23.45L195.90 19.15Z" fill="#ff0000"/>
<path d="M194.25 22.68L198.95 22.68L196.60 18.38Z" fill="#ff0000"/>
<path d="M194.95 22.83L199.65 22.83L197.30 18.53Z" fill="#ff0000"/>
<path d="M195.65 24.21L200.35 24.21L198.00 19.91Z" fill="#ff0000"/>
<path d="M196.35 22.88L201.05 22.88L198.70 18.58Z" fill="#ff0000"/>
<path d="M197.05 23.37L201.75 23.37L199.40 19.07Z" fill="#ff0000"/>
<path d="M197.75 24.43L202.45 24.43L200.10 20.13Z" fill="#ff0000"/>
<path d="M198.45 24.69L203.15 24.69L200.80 20.39Z" fill="#ff0000"/>
<path d="M199.15 24.21L203.85 24.21L201.50 19.91Z" fill="#ff0000"/>
<path d="M199.85 24.23L204.55 24.23L202.20 19.93Z" fill="#ff0000"/>
<path d="M200.55 24.79L205.25 24.79L202.90 20.49Z" fill="#ff0000"/>
<path d="M201.25 26.18L205.95 26.18L203.60 21.88Z" fill="#ff0000"/>
<path d="M201.95 25.83L206.65 25.83L204.30 21.53Z" fill="#ff0000"/>
<path d="M202.65 27.11L207.35 27.11L205.00 22.81Z" fill="#ff0000"/>
<path d="M203.35 26.99L208.05 26.99L205.70 22.69Z" fill="#ff0000"/>
<path d="M204.05 27.64L208.75 27.64L206.40 23.34Z" fill="#ff0000"/>
<path d="M204.75 26.02L209.45 26.02L207.10 21.72Z" fill="#ff0000"/>
<path d="M205.45 26.59L210.15 26.59L207.80 22.29Z" fill="#ff0000"/>
<path d="M206.15 26.51L210.85 26.51L208.50 22.21Z" fill="#ff0000"/>
<path d="M206.85 27.62L211.55 27.62L209.20 23.32Z" fill="#ff0000"/>
<path d="M207.55 27.70L212.25 27.70L209.90 23.40Z" fill="#ff0000"/>
<path d="M208.25 27.39L212.95 27.39L210.60 23.09Z" fill="#ff0000"/>
<path d="M208.95 28.64L213.65 28.64L211.30 24.34Z" fill="#ff0000"/>
<path d="M209.65 28.01L214.35 28.01L212.00 23.71Z" fill="#ff0000"/>
<path d="M210.35 28.71L215.05 28.71L212.70 24.41Z" fill="#ff0000"/>
<path d="M211.05 28.85L215.75 28.85L213.40 24.55Z" fill="#ff0000"/>
<path d="M211.75 30.22L216.45 30.22L214.10 25.92Z" fill="#ff0000"/>
<path d="M212.45 29.72L217.15 29.72L214.80 25.42Z" fill="#ff0000"/>
<path d="M213.15 29.67L217.85 29.67L215.50 25.37Z" fill="#ff0000"/>
<path d="M213.85 29.51L218.55 29.51L216.20 25.21Z" fill="#ff0000"/>
<path d="M214.55 30.56L219.25 30.56L216.90 26.26Z" fill="#ff0000"/>
<path d="M215.25 31.34L219.95 31.34L217.60 27.04Z" fill="#ff0000"/>
<path d="M215.95 31.82L220.65 31.82L218.30 27.52Z" fill="#ff0000"/>
<path d="M216.65 32.68L221.35 32.68L219.00 28.38Z" fill="#ff0000"/>
<path d="M217.35 32.85L222.05 32.85L219.70 28.55Z" fill="#ff0000"/>
<path d="M218.05 32.11L222.75 32.11L220.40 27.81Z" fill="#ff0000"/>
<path d="M218.75 32.27L223.45 32.27L221.10 27.97Z" fill="#ff0000"/>
<path d="M219.45 33.89L224.15 33.89L221.80 29.59Z" fill="#ff0000"/>
<path d="M220.15 34.34L224.85 34.34L222.50 30.04Z" fill="#ff0000"/>
<path d="M220.85 34.16L225.55 34.16L223.20 29.86Z" fill="#ff0000"/>
<path d="M221.55 35.18L226.25 35.18L223.90 30.88Z" fill="#ff0000"/>
<path d="M222.25 35.01L226.95 35.01L224.60 30.71Z" fill="#ff0000"/>
<path d="M222.95 34.85L227.65 34.85L225.30 30.55Z" fill="#ff0000"/>
<path d="M223.65 35.01L228.35 35.01L226.00 30.71Z" fill="#ff0000"/>
<path d="M224.35 35.08L229.05 35.08L226.70 30.78Z" fill="#ff0000"/>
<path d="M225.05 36.72L229.75 36.72L227.40 32.42Z" fill="#ff0000"/>
<path d="M225.75 37.61L230.45 37.61L228.10 33.31Z" fill="#ff0000"/>
<path d="M226.45 38.01L231.15 38.01L228.80 33.71Z" fill="#ff0000"/>
<path d="M227.15 37.51L231.85 37.51L229.50 33.21Z" fill="#ff0000"/>
<path d="M227.85 38.29L232.55 38.29L230.20 33.99Z" fill="#ff0000"/>
<path d="M228.55 39.21L233.25 39.21L230.90 34.91Z" fill="#ff0000"/>
<path d="M229.25 39.37L233.95 39.37L231.60 35.07Z" fill="#ff0000"/>
<path d="M229.95 39.33L234.65 39.33L232.30 35.03Z" fill="#ff0000"/>
<path d="M230.65 39.34L235.35 39.34L233.00 35.04Z" fill="#ff0000"/>
<path d="M231.35 39.94L236.05 39.94L233.70 35.64Z" fill="#ff0000"/>
<path d="M232.05 39.63L236.75 39.63L234.40 35.33Z" fill="#ff0000"/>
<path d="M232.75 40.04L237.45 40.04L235.10 35.74Z" fill="#ff0000"/>
<path d="M233.45 41.43L238.15 41.43L235.80 37.13Z" fill="#ff0000"/>
<path d="M234.15 42.44L238.85 42.44L236.50 38.14Z" fill="#ff0000"/>
<path d="M234.85 41.94L239.55 41.94L237.20 37.64Z" fill="#ff0000"/>
<path d="M235.55 42.05L240.25 42.05L237.90 37.75Z" fill="#ff0000"/>
<path d="M236.25 42.32L240.95 42.32L238.60 38.02Z" fill="#ff0000"/>
<path d="M236.95 42.92L241.65 42.92L239.30 38.62Z" fill="#ff0000"/>
<path d="M237.65 44.00L242.35 44.00L240.00 39.70Z" fill="#ff0000"/>
<path d="M238.35 43.69L243.05 43.69L240.70 39.39Z" fill="#ff0000"/>
<path d="M239.05 45.09L243.75 45.09L241.40 40.79Z" fill="#ff0000"/>
<path d="M239.75 43.87L244.45 43.87L242.10 39.57Z" fill="#ff0000"/>
<path d="M240.45 44.58L245.15 44.58L242.80 40.28Z" fill="#ff0000"/>
<path d="M241.15 45.35L245.85 45.35L243.50 41.05Z" fill="#ff0000"/>
<path d="M241.85 45.49L246.55 45.49L244.20 41.19Z" fill="#ff0000"/>
<path d="M242.55 46.72L247.25 46.72L244.90 42.42Z" fill="#ff0000"/>
<path d="M243.25 47.03L247.95 47.03L245.60 42.73Z" fill="#ff0000"/>
<path d="M243.95 47.59L248.65 47.59L246.30 43.29Z" fill="#ff0000"/>
<path d="M244.65 47.31L249.35 47.31L247.00 43.01Z" fill="#ff0000"/>
<path d="M245.35 46.50L250.05 46.50L247.70 42.20Z" fill="#ff0000"/>
<path d="M246.05 47.94L250.75 47.94L248.40 43.64Z" fill="#ff0000"/>
<path d="M246.75 48.25L251.45 48.25L249.10 43.95Z" fill="#ff0000"/>
<path d="M247.45 48.48L252.15 48.48L249.80 44.18Z" fill="#ff0000"/>
<path d="M248.15 48.42L252.85 48.42L250.50 44.12Z" fill="#ff0000"/>
<path d="M248.85 49.64L253.55 49.64L251.20 45.34Z" fill="#ff0000"/>
<path d="M249.55 50.40L254.25 50.40L251.90 46.10Z" fill="#ff0000"/>
<path d="M250.25 49.14L254.95 49.14L252.60 44.84Z" fill="#ff0000"/>
<path d="M250.95 50.62L255.65 50.62L253.30 46.32Z" fill="#ff0000"/>
<path d="M251.65 50.38L256.35 50.38L254.00 46.08Z" fill="#ff0000"/>
<path d="M252.35 51.03L257.05 51.03L254.70 46.73Z" fill="#ff0000"/>
<path d="M253.05 52.16L257.75 52.16L255.40 47.86Z" fill="#ff0000"/>
<path d="M253.75 52.66L258.45 52.66L256.10 48.36Z" fill="#ff0000"/>
<path d="M254.45 52.41L259.15 52.41L256.80 48.11Z" fill="#ff0000"/>
<path d="M255.15 51.89L259.85 51.89L257.50 47.59Z" fill="#ff0000"/>
<path d="M255.85 53.72L260.55 53.72L258.20 49.42Z" fill="#ff0000"/>
<path d="M256.55 52.62L261.25 52.62L258.90 48.32Z" fill="#ff0000"/>
<path d="M257.25 53.40L261.95 53.40L259.60 49.10Z" fill="#ff0000"/>
<path d="M257.95 54.67L262.65 54.67L260.30 50.37Z" fill="#ff0000"/>
<path d="M258.65 54.02L263.35 54.02L261.00 49.72Z" fill="#ff0000"/>
<path d="M259.35 54.31L264.05 54.31L261.70 50.01Z" fill="#ff0000"/>
<path d="M260.05 56.05L264.75 56.05L262.40 51.75Z" fill="#ff0000"/>
<path d="M261.15 56.63L265.85 56.63L263.50 52.33Z" fill="#ff0000"/>
<path d="M262.25 55.97L266.95 55.97L264.60 51.67Z" fill="#ff0000"/>
<path d="M263.35 56.71L268.05 56.71L265.70 52.41Z" fill="#ff0000"/>
<path d="M264.45 57.09L269.15 57.09L266.80 52.79Z" fill="#ff0000"/>
<path d="M265.55 57.38L270.25 57.38L267.90 53.08Z" fill="#ff0000"/>
<path d="M266.65 58.22L271.35 58.22L269.00 53.92Z" fill="#ff0000"/>
<path d="M267.73 60.30L272.43 60.30L270.08 56.00Z" fill="#ff0000"/>
<path d="M268.82 59.12L273.52 59.12L271.17 54.82Z" fill="#ff0000"/>
<path d="M269.90 60.04L274.60 60.04L272.25 55.74Z" fill="#ff0000"/>
<path d="M270.99 60.60L275.69 60.60L273.34 56.30Z" fill="#ff0000"/>
<path d="M272.08 60.98L276.78 60.98L274.43 56.68Z" fill="#ff0000"/>
<path d="M273.16 62.45L277.86 62.45L275.51 58.15Z" fill="#ff0000"/>
<path d="M274.28 63.44L278.98 63.44L276.63 59.14Z" fill="#ff0000"/>
<path d="M275.41 64.18L280.11 64.18L277.76 59.88Z" fill="#ff0000"/>
<path d="M276.53 64.31L281.23 64.31L278.88 60.01Z" fill="#ff0000"/>
<path d="M277.65 65.24L282.35 65.24L280.00 60.94Z" fill="#ff0000"/>
<path d="M278.77 64.16L283.47 64.16L281.12 59.86Z" fill="#ff0000"/>
<path d="M279.90 65.26L284.60 65.26L282.25 60.96Z" fill="#ff0000"/>
<path d="M281.02 67.17L285.72 67.17L283.37 62.87Z" fill="#ff0000"/>
<path d="M282.14 65.94L286.84 65.94L284.49 61.64Z" fill="#ff0000"/>
<path d="M283.26 66.87L287.96 66.87L285.61 62.57Z" fill="#ff0000"/>
<path d="M284.40 67.83L289.10 67.83L286.75 63.53Z" fill="#ff0000"/>
<path d="M285.53 67.93L290.23 67.93L287.88 63.63Z" fill="#ff0000"/>
<path d="M286.66 69.01L291.36 69.01L289.01 64.71Z" fill="#ff0000"/>
<path d="M287.80 68.54L292.50 68.54L290.15 64.24Z" fill="#ff0000"/>
<path d="M288.93 69.44L293.63 69.44L291.28 65.14Z" fill="#ff0000"/>
<path d="M290.06 71.42L294.76 71.42L292.41 67.12Z" fill="#ff0000"/>
<path d="M291.20 70.32L295.90 70.32L293.55 66.02Z" fill="#ff0000"/>
<path d="M292.33 72.37L297.03 72.37L294.68 68.07Z" fill="#ff0000"/>
<path d="M293.46 71.44L298.16 71.44L295.81 67.14Z" fill="#ff0000"/>
<path d="M294.60 73.60L299.30 73.60L296.95 69.30Z" fill="#ff0000"/>
<path d="M295.73 73.49L300.43 73.49L298.08 69.19Z" fill="#ff0000"/>
<path d="M296.86 73.96L301.56 73.96L299.21 69.66Z" fill="#ff0000"/>
<path d="M298.00 73.48L302.70 73.48L300.35 69.18Z" fill="#ff0000"/>
<path d="M299.13 73.86L303.83 73.86L301.48 69.56Z" fill="#ff0000"/>
<path d="M300.24 75.84L304.94 75.84L302.59 71.54Z" fill="#ff0000"/>
<path d="M301.35 75.24L306.05 75.24L303.70 70.94Z" fill="#ff0000"/>
<path d="M302.46 75.84L307.16 75.84L304.81 71.54Z" fill="#ff0000"/>
<path d="M303.58 77.68L308.28 77.68L305.93 73.38Z" fill="#ff0000"/>
<path d="M304.69 78.35L309.39 78.35L307.04 74.05Z" fill="#ff0000"/>
<path d="M305.80 77.27L310.50 77.27L308.15 72.97Z" fill="#ff0000"/>
<path d="M306.91 79.67L311.61 79.67L309.26 75.37Z" fill="#ff0000"/>
<path d="M308.02 79.38L312.72 79.38L310.37 75.08Z" fill="#ff0000"/>
<path d="M309.14 79.65L313.84 79.65L311.49 75.35Z" fill="#ff0000"/>
<path d="M310.25 79.69L314.95 79.69L312.60 75.39Z" fill="#ff0000"/>
<path d="M311.35 80.85L316.05 80.85L313.70 76.55Z" fill="#ff0000"/>
<path d="M312.45 82.64L317.15 82.64L314.80 78.34Z" fill="#ff0000"/>
<path d="M313.54 81.83L318.24 81.83L315.89 77.53Z" fill="#ff0000"/>
<path d="M314.64 82.12L319.34 82.12L316.99 77.82Z" fill="#ff0000"/>
<path d="M315.74 82.75L320.44 82.75L318.09 78.45Z" fill="#ff0000"/>
<path d="M316.84 83.45L321.54 83.45L319.19 79.15Z" fill="#ff0000"/>
<path d="M317.60 84.89L322.30 84.89L319.95 80.59Z" fill="#ff0000"/>
<path d="M318.36 87.01L323.06 87.01L320.71 82.71Z" fill="#ff0000"/>
<path d="M319.13 86.32L323.83 86.32L321.48 82.02Z" fill="#ff0000"/>
<path d="M319.89 87.54L324.59 87.54L322.24 83.24Z" fill="#ff0000"/>
<path d="M320.65 90.03L325.35 90.03L323.00 85.73Z" fill="#ff0000"/>
<path d="M321.19 91.27L325.89 91.27L323.54 86.97Z" fill="#ff0000"/>
<path d="M321.73 92.36L326.43 92.36L324.08 88.06Z" fill="#ff0000"/>
<path d="M322.28 92.02L326.98 92.02L324.63 87.72Z" fill="#ff0000"/>
<path d="M322.82 93.37L327.52 93.37L325.17 89.07Z" fill="#ff0000"/>
<path d="M323.34 95.70L328.04 95.70L325.69 91.40Z" fill="#ff0000"/>
<path d="M323.84 95.91L328.54 95.91L326.19 91.61Z" fill="#ff0000"/>
<path d="M324.33 97.50L329.03 97.50L326.68 93.20Z" fill="#ff0000"/>
<path d="M324.83 97.87L329.53 97.87L327.18 93.57Z" fill="#ff0000"/>
<path d="M325.32 98.43L330.02 98.43L327.67 94.13Z" fill="#ff0000"/>
<path d="M325.80 100.23L330.50 100.23L328.15 95.93Z" fill="#ff0000"/>
<path d="M326.23 102.20L330.93 102.20L328.58 97.90Z" fill="#ff0000"/>
<path d="M326.67 103.44L331.37 103.44L329.02 99.14Z" fill="#ff0000"/>
<path d="M327.11 104.19L331.81 104.19L329.46 99.89Z" fill="#ff0000"/>
<path d="M327.55 105.15L332.25 105.15L329.90 100.85Z" fill="#ff0000"/>
<path d="M327.99 106.47L332.69 106.47L330.34 102.17Z" fill="#ff0000"/>
<path d="M334.05 111.15L338.75 111.15L336.40 106.85Z" fill="#ff0000"/>
<path d="M347.75 115.35L352.45 115.35L350.10 111.05Z" fill="#ff0000"/>
<path d="M352.55 118.55L357.25 118.55L354.90 114.25Z" fill="#ff0000"/>
<path d="M360.45 122.35L365.15 122.35L362.80 118.05Z" fill="#ff0000"/>
<path d="M365.85 125.85L370.55 125.85L368.20 121.55Z" fill="#ff0000"/>
<path d="M367.15 130.15L371.85 130.15L369.50 125.85Z" fill="#ff0000"/>
<path d="M371.35 136.65L376.05 136.65L373.70 132.35Z" fill="#ff0000"/>
<path d="M375.45 143.85L380.15 143.85L377.80 139.55Z" fill="#ff0000"/>
<path d="M401.25 155.15L405.95 155.15L403.60 150.85Z" fill="#ff0000"/>
<path d="M412.75 173.75L417.45 173.75L415.10 169.45Z" fill="#ff0000"/>
<line x1="206" y1="24.5" x2="400.6" y2="124.1" stroke="#000" stroke-width="2" stroke-dasharray="4.4 3" stroke-dashoffset="0.4"/>
<line x1="154.6" y1="14.3" x2="400.6" y2="142.8" stroke="#000" stroke-width="2" stroke-dasharray="4.4 3" stroke-dashoffset="0.4"/>
<line x1="154.6" y1="36.1" x2="400.6" y2="161.1" stroke="#000" stroke-width="2" stroke-dasharray="4.4 3" stroke-dashoffset="1.9"/>
<line x1="202.6" y1="89.4" x2="400.6" y2="179" stroke="#000" stroke-width="2" stroke-dasharray="4.4 3" stroke-dashoffset="0.5"/>
</g>
<line x1="55.6" y1="346.13" x2="449.65" y2="346.13" stroke="#000" stroke-width="1.2" stroke-dasharray="4 3.41"/>
<circle cx="80.12" cy="375.38" r="3.75" fill="#00ff00"/>
<circle cx="129.38" cy="361.51" r="3.75" fill="#00ff00"/>
<circle cx="178.62" cy="349.46" r="3.75" fill="#00ff00"/>
<circle cx="227.88" cy="342.75" r="3.75" fill="#00ff00"/>
<circle cx="277.12" cy="336.96" r="3.75" fill="#00ff00"/>
<circle cx="326.38" cy="318.96" r="3.75" fill="#00ff00"/>
<path d="M326.38 324.91L326.38 313.01M323.88 324.91L328.88 324.91M323.88 313.01L328.88 313.01" stroke="#00ff00" stroke-width="1.15" fill="none"/>
<rect x="76.50" y="371.76" width="7.25" height="7.25" fill="#ff00ff"/>
<rect x="125.75" y="362.76" width="7.25" height="7.25" fill="#ff00ff"/>
<rect x="175.00" y="358.34" width="7.25" height="7.25" fill="#ff00ff"/>
<rect x="224.25" y="343.85" width="7.25" height="7.25" fill="#ff00ff"/>
<rect x="273.50" y="349.86" width="7.25" height="7.25" fill="#ff00ff"/>
<rect x="322.75" y="341.87" width="7.25" height="7.25" fill="#ff00ff"/>
<rect x="372.00" y="323.88" width="7.25" height="7.25" fill="#ff00ff"/>
<path d="M76.47 371.40L83.78 371.40L80.12 378.40Z" fill="#0000ff"/>
<path d="M125.72 354.29L133.03 354.29L129.38 361.29Z" fill="#0000ff"/>
<path d="M174.97 348.40L182.28 348.40L178.62 355.40Z" fill="#0000ff"/>
<path d="M224.22 341.38L231.53 341.38L227.88 348.38Z" fill="#0000ff"/>
<path d="M273.48 334.98L280.77 334.98L277.12 341.98Z" fill="#0000ff"/>
<path d="M322.73 311.04L330.02 311.04L326.38 318.04Z" fill="#0000ff"/>
<path d="M326.38 320.64L326.38 308.44M323.88 320.64L328.88 320.64M323.88 308.44L328.88 308.44" stroke="#0000ff" stroke-width="1.15" fill="none"/>
<path d="M125.72 376.80L133.03 376.80L129.38 370.00Z" fill="#ff0000"/>
<path d="M174.97 362.01L182.28 362.01L178.62 355.21Z" fill="#ff0000"/>
<path d="M224.22 346.91L231.53 346.91L227.88 340.11Z" fill="#ff0000"/>
<path d="M273.48 351.03L280.77 351.03L277.12 344.23Z" fill="#ff0000"/>
<path d="M322.73 317.78L330.02 317.78L326.38 310.99Z" fill="#ff0000"/>
<path d="M371.98 309.25L379.27 309.25L375.62 302.45Z" fill="#ff0000"/>
<path d="M375.62 317.44L375.62 294.25M373.12 317.44L378.12 317.44M373.12 294.25L378.12 294.25" stroke="#ff0000" stroke-width="1.15" fill="none"/>
<line x1="55.50" y1="375.38" x2="104.75" y2="375.38" stroke="#ff00ff" stroke-width="1.25"/>
<line x1="104.75" y1="366.39" x2="154.00" y2="366.39" stroke="#ff00ff" stroke-width="1.25"/>
<line x1="154.00" y1="361.97" x2="203.25" y2="361.97" stroke="#ff00ff" stroke-width="1.25"/>
<line x1="203.25" y1="347.48" x2="252.50" y2="347.48" stroke="#ff00ff" stroke-width="1.25"/>
<line x1="252.50" y1="353.49" x2="301.75" y2="353.49" stroke="#ff00ff" stroke-width="1.25"/>
<line x1="301.75" y1="345.50" x2="351.00" y2="345.50" stroke="#ff00ff" stroke-width="1.25"/>
<line x1="351.00" y1="327.50" x2="400.25" y2="327.50" stroke="#ff00ff" stroke-width="1.25"/>
<g font-family="Liberation Sans, sans-serif" fill="#000">
<text transform="translate(55.60,425.00) scale(1,1.12)" text-anchor="middle" font-size="13.8">24</text>
<text transform="translate(154.11,425.00) scale(1,1.12)" text-anchor="middle" font-size="13.8">22</text>
<text transform="translate(252.62,425.00) scale(1,1.12)" text-anchor="middle" font-size="13.8">20</text>
<text transform="translate(351.14,425.00) scale(1,1.12)" text-anchor="middle" font-size="13.8">18</text>
<text transform="translate(449.65,425.00) scale(1,1.12)" text-anchor="middle" font-size="13.8">16</text>
<text transform="translate(52.00,16.80) scale(1,1.12)" text-anchor="end" font-size="13.8">0</text>
<text transform="translate(52.00,74.85) scale(1,1.12)" text-anchor="end" font-size="13.8">-1</text>
<text transform="translate(52.00,136.30) scale(1,1.12)" text-anchor="end" font-size="13.8">-2</text>
<text transform="translate(52.00,197.75) scale(1,1.12)" text-anchor="end" font-size="13.8">-3</text>
<text transform="translate(52.00,263.05) scale(1,1.12)" text-anchor="end" font-size="13.8">5</text>
<text transform="translate(52.00,381.44) scale(1,1.12)" text-anchor="end" font-size="13.8">1</text>
<text transform="translate(52.00,350.88) scale(1,1.12)" text-anchor="end" font-size="13.8">2</text>
<text transform="translate(52.00,320.32) scale(1,1.12)" text-anchor="end" font-size="13.8">3</text>
<text transform="translate(52.00,289.76) scale(1,1.12)" text-anchor="end" font-size="13.8">4</text>
<text transform="translate(52.00,407.95) scale(1,1.12)" text-anchor="end" font-size="13.8">0</text>
<text transform="translate(252.60,439.80) scale(1,1.12)" text-anchor="middle" font-size="13.8">Magnitude</text>
<text transform="translate(29.40,131.30) rotate(-90) scale(1,1.12)" text-anchor="middle" font-size="13.8">log (Cumulative Fraction) + c</text>
<text transform="translate(33.80,331.00) rotate(-90) scale(1,1.12)" text-anchor="middle" font-size="13.8">LF index</text>
<text transform="translate(90.40,165.60) scale(1,1.12)" text-anchor="start" font-size="13.8">F336W (1.79)</text>
<text transform="translate(90.40,185.90) scale(1,1.12)" text-anchor="start" font-size="13.8">F438W (1.89)</text>
<text transform="translate(90.40,206.30) scale(1,1.12)" text-anchor="start" font-size="13.8">F555W (1.95)</text>
<text transform="translate(90.40,227.00) scale(1,1.12)" text-anchor="start" font-size="13.8">F814W (1.93)</text>
<text transform="translate(351.30,30.90) scale(1,1.075)" text-anchor="start" font-size="15.8">Inner Field</text>
</g>
<rect x="76.55" y="158.60" width="7.3" height="7.3" fill="#ff00ff"/>
<path d="M76.55 179.40L83.85 179.40L80.20 186.40Z" fill="#0000ff"/>
<circle cx="80.30" cy="203.10" r="3.7" fill="#00ff00"/>
<path d="M76.55 227.00L83.85 227.00L80.20 220.00Z" fill="#ff0000"/>
</svg>
</body></html>
